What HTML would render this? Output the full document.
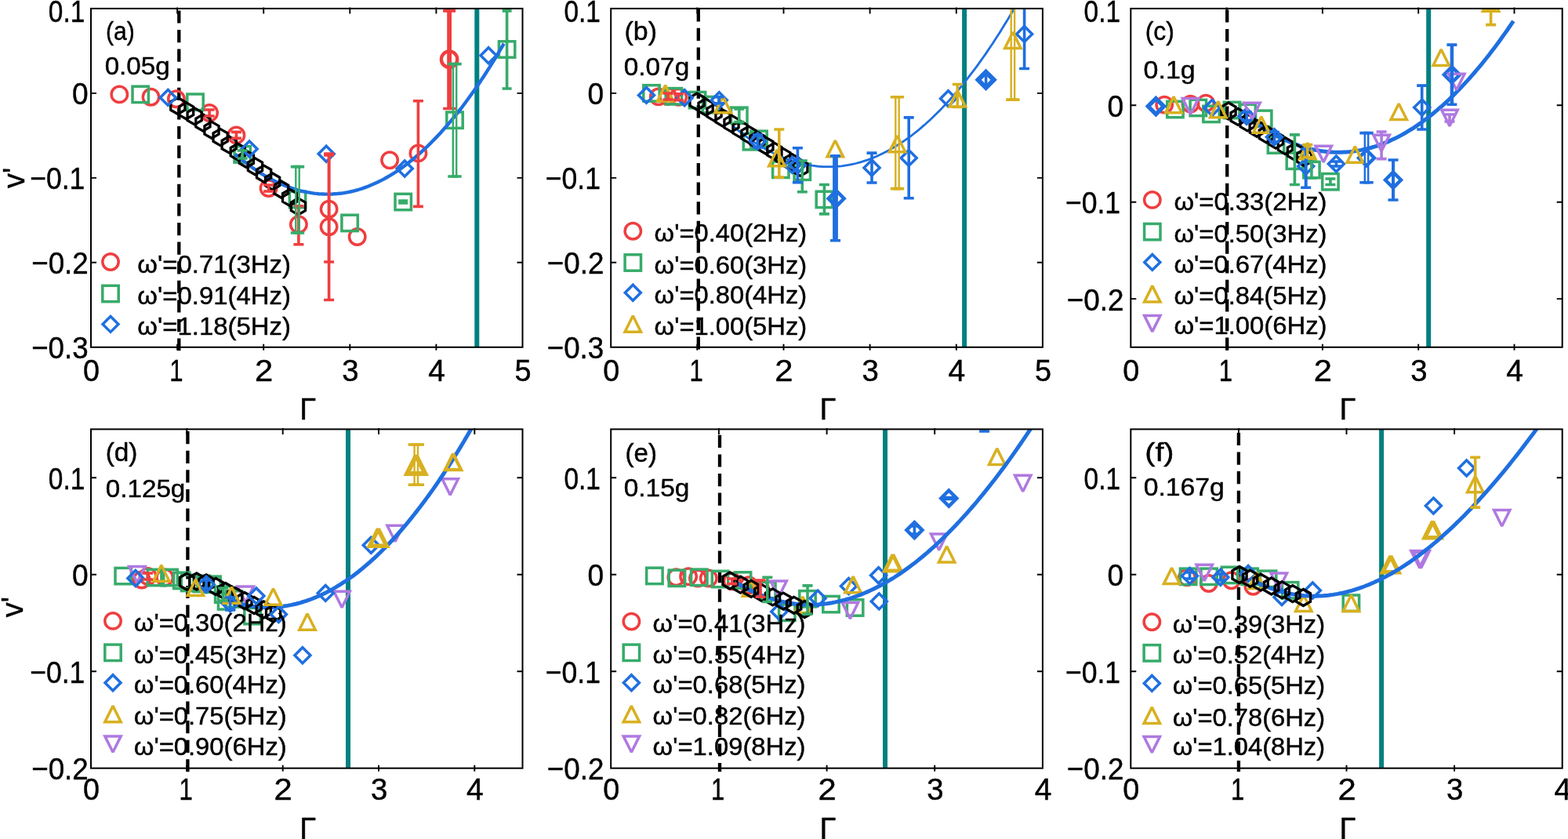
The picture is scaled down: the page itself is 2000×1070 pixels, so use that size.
<!DOCTYPE html>
<html><head><meta charset="utf-8"><style>
html,body{margin:0;padding:0;background:#fff;}
svg{display:block;}
text{font-family:'Liberation Sans',Arial,sans-serif;fill:#000;stroke:#000;stroke-width:0.45px;}
</style></head><body>
<svg width="2000" height="1070" viewBox="0 0 2000 1070">
<rect width="2000" height="1070" fill="#fff"/>
<clipPath id="clipa"><rect x="116.0" y="10.9" width="550.5" height="431.90000000000003"/></clipPath>
<path d="M608.3 10.9V442.8" stroke="#008080" stroke-width="6"/>
<path d="M228.3 13.4V447.3" stroke="#000" stroke-width="4.3" stroke-dasharray="16.2 8.4"/>
<g clip-path="url(#clipa)"><circle cx="152.3" cy="120.4" r="10.2" fill="none" stroke="#EF3E40" stroke-width="3.5"/><circle cx="192.5" cy="123.7" r="10.2" fill="none" stroke="#EF3E40" stroke-width="3.5"/><circle cx="224.9" cy="126.3" r="10.2" fill="none" stroke="#EF3E40" stroke-width="3.5"/><circle cx="267.1" cy="144.0" r="10.2" fill="none" stroke="#EF3E40" stroke-width="3.5"/><circle cx="301.4" cy="172.4" r="10.2" fill="none" stroke="#EF3E40" stroke-width="3.5"/><circle cx="342.6" cy="240.1" r="10.2" fill="none" stroke="#EF3E40" stroke-width="3.5"/><circle cx="380.9" cy="286.3" r="10.2" fill="none" stroke="#EF3E40" stroke-width="3.5"/><circle cx="419.6" cy="266.7" r="10.2" fill="none" stroke="#EF3E40" stroke-width="3.5"/><circle cx="419.6" cy="289.3" r="10.2" fill="none" stroke="#EF3E40" stroke-width="3.5"/><circle cx="455.7" cy="302.0" r="10.2" fill="none" stroke="#EF3E40" stroke-width="3.5"/><circle cx="497.1" cy="204.2" r="10.2" fill="none" stroke="#EF3E40" stroke-width="3.5"/><circle cx="533.4" cy="195.4" r="10.2" fill="none" stroke="#EF3E40" stroke-width="3.5"/><circle cx="573.1" cy="75.7" r="10.2" fill="none" stroke="#EF3E40" stroke-width="4.4"/><rect x="169.0" y="110.2" width="20.4" height="20.4" fill="none" stroke="#37AB6A" stroke-width="3.5" stroke-linejoin="miter"/><rect x="238.8" y="120.0" width="20.4" height="20.4" fill="none" stroke="#37AB6A" stroke-width="3.5" stroke-linejoin="miter"/><rect x="299.0" y="186.7" width="20.4" height="20.4" fill="none" stroke="#37AB6A" stroke-width="3.5" stroke-linejoin="miter"/><rect x="369.3" y="244.3" width="20.4" height="20.4" fill="none" stroke="#37AB6A" stroke-width="3.5" stroke-linejoin="miter"/><rect x="435.9" y="274.2" width="20.4" height="20.4" fill="none" stroke="#37AB6A" stroke-width="3.5" stroke-linejoin="miter"/><rect x="504.0" y="247.3" width="20.4" height="20.4" fill="none" stroke="#37AB6A" stroke-width="3.5" stroke-linejoin="miter"/><rect x="569.8" y="143.0" width="20.4" height="20.4" fill="none" stroke="#37AB6A" stroke-width="3.5" stroke-linejoin="miter"/><rect x="636.4" y="52.8" width="20.4" height="20.4" fill="none" stroke="#37AB6A" stroke-width="3.5" stroke-linejoin="miter"/><path d="M300.0 196.6L302.9 199.0L305.8 201.4L308.6 203.7L311.5 206.0L314.4 208.2L317.3 210.4L320.2 212.5L323.0 214.5L325.9 216.5L328.8 218.4L331.7 220.3L334.6 222.1L337.4 223.8L340.3 225.5L343.2 227.1L346.1 228.6L349.0 230.1L351.8 231.6L354.7 232.9L357.6 234.2L360.5 235.5L363.4 236.7L366.2 237.8L369.1 238.9L372.0 239.9L374.9 240.8L377.8 241.7L380.6 242.5L383.5 243.3L386.4 244.0L389.3 244.6L392.2 245.2L395.0 245.7L397.9 246.2L400.8 246.6L403.7 246.9L406.6 247.2L409.4 247.4L412.3 247.5L415.2 247.6L418.1 247.6L421.0 247.6L423.8 247.5L426.7 247.3L429.6 247.1L432.5 246.8L435.4 246.5L438.2 246.1L441.1 245.6L444.0 245.1L446.9 244.5L449.8 243.8L452.6 243.1L455.5 242.3L458.4 241.5L461.3 240.6L464.2 239.6L467.0 238.6L469.9 237.5L472.8 236.3L475.7 235.1L478.5 233.8L481.4 232.5L484.3 231.1L487.2 229.6L490.1 228.1L492.9 226.5L495.8 224.8L498.7 223.1L501.6 221.3L504.5 219.5L507.3 217.6L510.2 215.6L513.1 213.6L516.0 211.5L518.9 209.3L521.7 207.1L524.6 204.8L527.5 202.4L530.4 200.0L533.3 197.5L536.1 195.0L539.0 192.4L541.9 189.7L544.8 187.0L547.7 184.2L550.5 181.3L553.4 178.4L556.3 175.4L559.2 172.3L562.1 169.2L564.9 166.0L567.8 162.8L570.7 159.5L573.6 156.1L576.5 152.7L579.3 149.2L582.2 145.6L585.1 142.0L588.0 138.3L590.9 134.5L593.7 130.7L596.6 126.8L599.5 122.8L602.4 118.8L605.3 114.7L608.1 110.6L611.0 106.4L613.9 102.1L616.8 97.7L619.7 93.3L622.5 88.9L625.4 84.3L628.3 79.7L631.2 75.0L634.1 70.3L636.9 65.5L639.8 60.6L642.7 55.7" fill="none" stroke="#1F6FE0" stroke-width="4.4" stroke-linecap="butt"/><path d="M226.8 124.5L217.7 129.8L217.7 140.2L226.8 145.5L235.9 140.2L235.9 129.8Z" fill="none" stroke="#000" stroke-width="3.3" stroke-linejoin="miter"/><path d="M237.6 130.8L228.5 136.1L228.5 146.6L237.6 151.8L246.7 146.6L246.7 136.1Z" fill="none" stroke="#000" stroke-width="3.3" stroke-linejoin="miter"/><path d="M248.2 137.8L239.1 143.1L239.1 153.6L248.2 158.8L257.3 153.6L257.3 143.1Z" fill="none" stroke="#000" stroke-width="3.3" stroke-linejoin="miter"/><path d="M258.9 146.0L249.8 151.2L249.8 161.8L258.9 167.0L268.0 161.8L268.0 151.2Z" fill="none" stroke="#000" stroke-width="3.3" stroke-linejoin="miter"/><path d="M270.0 155.3L260.9 160.6L260.9 171.1L270.0 176.3L279.1 171.1L279.1 160.6Z" fill="none" stroke="#000" stroke-width="3.3" stroke-linejoin="miter"/><path d="M281.1 164.6L272.0 169.8L272.0 180.3L281.1 185.6L290.2 180.3L290.2 169.8Z" fill="none" stroke="#000" stroke-width="3.3" stroke-linejoin="miter"/><path d="M292.2 173.9L283.1 179.2L283.1 189.7L292.2 194.9L301.3 189.7L301.3 179.2Z" fill="none" stroke="#000" stroke-width="3.3" stroke-linejoin="miter"/><path d="M303.3 183.2L294.2 188.4L294.2 198.9L303.3 204.2L312.4 198.9L312.4 188.4Z" fill="none" stroke="#000" stroke-width="3.3" stroke-linejoin="miter"/><path d="M314.4 192.5L305.3 197.8L305.3 208.2L314.4 213.5L323.5 208.2L323.5 197.8Z" fill="none" stroke="#000" stroke-width="3.3" stroke-linejoin="miter"/><path d="M325.5 201.8L316.4 207.1L316.4 217.6L325.5 222.8L334.6 217.6L334.6 207.1Z" fill="none" stroke="#000" stroke-width="3.3" stroke-linejoin="miter"/><path d="M336.6 211.1L327.5 216.3L327.5 226.8L336.6 232.1L345.7 226.8L345.7 216.3Z" fill="none" stroke="#000" stroke-width="3.3" stroke-linejoin="miter"/><path d="M347.6 221.0L338.5 226.2L338.5 236.8L347.6 242.0L356.7 236.8L356.7 226.2Z" fill="none" stroke="#000" stroke-width="3.3" stroke-linejoin="miter"/><path d="M358.6 231.0L349.5 236.2L349.5 246.8L358.6 252.0L367.7 246.8L367.7 236.2Z" fill="none" stroke="#000" stroke-width="3.3" stroke-linejoin="miter"/><path d="M369.6 241.4L360.5 246.7L360.5 257.1L369.6 262.4L378.7 257.2L378.7 246.7Z" fill="none" stroke="#000" stroke-width="3.3" stroke-linejoin="miter"/><path d="M380.4 252.8L371.3 258.1L371.3 268.6L380.4 273.8L389.5 268.6L389.5 258.1Z" fill="none" stroke="#000" stroke-width="3.3" stroke-linejoin="miter"/><path d="M214.3 114.4L224.3 124.4L214.3 134.4L204.3 124.4Z" fill="none" stroke="#1F6FE0" stroke-width="3.5" stroke-linejoin="miter"/><path d="M318.1 180.0L328.1 190.0L318.1 200.0L308.1 190.0Z" fill="none" stroke="#1F6FE0" stroke-width="3.5" stroke-linejoin="miter"/><path d="M416.2 186.2L426.2 196.2L416.2 206.2L406.2 196.2Z" fill="none" stroke="#1F6FE0" stroke-width="3.5" stroke-linejoin="miter"/><path d="M516.2 205.0L526.2 215.0L516.2 225.0L506.2 215.0Z" fill="none" stroke="#1F6FE0" stroke-width="3.5" stroke-linejoin="miter"/><path d="M623.1 60.8L633.1 70.8L623.1 80.8L613.1 70.8Z" fill="none" stroke="#1F6FE0" stroke-width="3.5" stroke-linejoin="miter"/><path d="M267.1 140.0V148.0" stroke="#EF3E40" stroke-width="3.6"/><path d="M260.6 140.0H273.6M260.6 148.0H273.6" stroke="#EF3E40" stroke-width="3.6"/><path d="M301.4 168.4V176.4" stroke="#EF3E40" stroke-width="3.6"/><path d="M294.9 168.4H307.9M294.9 176.4H307.9" stroke="#EF3E40" stroke-width="3.6"/><path d="M342.6 236.0V244.0" stroke="#EF3E40" stroke-width="3.6"/><path d="M336.1 236.0H349.1M336.1 244.0H349.1" stroke="#EF3E40" stroke-width="3.6"/><path d="M380.9 262.8V311.8" stroke="#EF3E40" stroke-width="3.6"/><path d="M374.4 262.8H387.4M374.4 311.8H387.4" stroke="#EF3E40" stroke-width="3.6"/><path d="M419.6 198.0V334.0" stroke="#EF3E40" stroke-width="3.6"/><path d="M413.1 198.0H426.1M413.1 334.0H426.1" stroke="#EF3E40" stroke-width="3.6"/><path d="M419.6 196.0V382.5" stroke="#EF3E40" stroke-width="3.6"/><path d="M413.1 196.0H426.1M413.1 382.5H426.1" stroke="#EF3E40" stroke-width="3.6"/><path d="M533.4 128.7V263.4" stroke="#EF3E40" stroke-width="3.6"/><path d="M526.9 128.7H539.9M526.9 263.4H539.9" stroke="#EF3E40" stroke-width="3.6"/><path d="M573.1 13.9V138.5" stroke="#EF3E40" stroke-width="5.8"/><path d="M565.1 13.9H581.1M565.1 138.5H581.1" stroke="#EF3E40" stroke-width="3.6"/><path d="M309.2 192.0V202.0" stroke="#37AB6A" stroke-width="3.6"/><path d="M302.7 192.0H315.7M302.7 202.0H315.7" stroke="#37AB6A" stroke-width="3.6"/><path d="M377.3 212.6V297.0" stroke="#37AB6A" stroke-width="2.4"/><path d="M370.8 212.6H383.8M370.8 297.0H383.8" stroke="#37AB6A" stroke-width="3.6"/><path d="M381.7 212.6V297.0" stroke="#37AB6A" stroke-width="2.4"/><path d="M375.2 212.6H388.2M375.2 297.0H388.2" stroke="#37AB6A" stroke-width="3.6"/><path d="M514.2 256.0V259.0" stroke="#37AB6A" stroke-width="3.6"/><path d="M508.2 256.0H520.2M508.2 259.0H520.2" stroke="#37AB6A" stroke-width="3.6"/><path d="M577.8 81.6V225.0" stroke="#37AB6A" stroke-width="2.4"/><path d="M571.3 81.6H584.3M571.3 225.0H584.3" stroke="#37AB6A" stroke-width="3.6"/><path d="M582.2 81.6V225.0" stroke="#37AB6A" stroke-width="2.4"/><path d="M575.7 81.6H588.7M575.7 225.0H588.7" stroke="#37AB6A" stroke-width="3.6"/><path d="M646.6 13.9V113.0" stroke="#37AB6A" stroke-width="3.6"/><path d="M640.6 13.9H652.6M640.6 113.0H652.6" stroke="#37AB6A" stroke-width="3.6"/></g>
<rect x="116.0" y="10.9" width="550.5" height="431.90000000000003" fill="none" stroke="#000" stroke-width="2.0"/>
<path d="M226.1 438.8V446.8M226.1 9.4V17.4M336.2 438.8V446.8M336.2 9.4V17.4M446.3 438.8V446.8M446.3 9.4V17.4M556.4 438.8V446.8M556.4 9.4V17.4M115.5 118.9H123.0M667.0 118.9H659.5M115.5 226.9H123.0M667.0 226.9H659.5M115.5 334.8H123.0M667.0 334.8H659.5" stroke="#000" stroke-width="1.9"/>
<circle cx="141.0" cy="334.0" r="10.2" fill="none" stroke="#EF3E40" stroke-width="3.5"/>
<rect x="130.8" y="364.3" width="20.4" height="20.4" fill="none" stroke="#37AB6A" stroke-width="3.5" stroke-linejoin="miter"/>
<path d="M141.0 403.4L151.0 413.4L141.0 423.4L131.0 413.4Z" fill="none" stroke="#1F6FE0" stroke-width="3.5" stroke-linejoin="miter"/>
<text transform="translate(30.5 226.8) rotate(-90)" font-size="38" text-anchor="middle">v'</text>
<clipPath id="clipb"><rect x="779.2" y="10.9" width="550.7" height="431.90000000000003"/></clipPath>
<path d="M1230.1 10.9V442.8" stroke="#008080" stroke-width="6"/>
<path d="M890.8 11.200000000000001V447.3" stroke="#000" stroke-width="4.3" stroke-dasharray="16.2 8.4"/>
<g clip-path="url(#clipb)"><circle cx="839.8" cy="123.4" r="10.2" fill="none" stroke="#EF3E40" stroke-width="3.5"/><circle cx="852.0" cy="123.0" r="10.2" fill="none" stroke="#EF3E40" stroke-width="3.5"/><circle cx="865.3" cy="123.8" r="10.2" fill="none" stroke="#EF3E40" stroke-width="3.5"/><rect x="820.8" y="108.7" width="20.4" height="20.4" fill="none" stroke="#37AB6A" stroke-width="3.5" stroke-linejoin="miter"/><rect x="849.2" y="112.6" width="20.4" height="20.4" fill="none" stroke="#37AB6A" stroke-width="3.5" stroke-linejoin="miter"/><rect x="879.3" y="117.4" width="20.4" height="20.4" fill="none" stroke="#37AB6A" stroke-width="3.5" stroke-linejoin="miter"/><rect x="896.3" y="123.4" width="20.4" height="20.4" fill="none" stroke="#37AB6A" stroke-width="3.5" stroke-linejoin="miter"/><rect x="932.6" y="137.1" width="20.4" height="20.4" fill="none" stroke="#37AB6A" stroke-width="3.5" stroke-linejoin="miter"/><rect x="948.3" y="170.5" width="20.4" height="20.4" fill="none" stroke="#37AB6A" stroke-width="3.5" stroke-linejoin="miter"/><rect x="957.8" y="167.1" width="20.4" height="20.4" fill="none" stroke="#37AB6A" stroke-width="3.5" stroke-linejoin="miter"/><rect x="985.6" y="206.1" width="20.4" height="20.4" fill="none" stroke="#37AB6A" stroke-width="3.5" stroke-linejoin="miter"/><rect x="1013.1" y="209.0" width="20.4" height="20.4" fill="none" stroke="#37AB6A" stroke-width="3.5" stroke-linejoin="miter"/><rect x="1041.2" y="244.2" width="20.4" height="20.4" fill="none" stroke="#37AB6A" stroke-width="3.5" stroke-linejoin="miter"/><path d="M935.0 160.8L938.1 163.4L941.1 165.9L944.2 168.3L947.3 170.7L950.3 173.0L953.4 175.3L956.5 177.4L959.5 179.6L962.6 181.6L965.7 183.6L968.7 185.5L971.8 187.4L974.9 189.2L977.9 190.9L981.0 192.5L984.1 194.1L987.1 195.7L990.2 197.1L993.3 198.5L996.3 199.9L999.4 201.1L1002.5 202.3L1005.5 203.5L1008.6 204.5L1011.7 205.6L1014.7 206.5L1017.8 207.4L1020.9 208.2L1023.9 208.9L1027.0 209.6L1030.1 210.2L1033.2 210.7L1036.2 211.2L1039.3 211.6L1042.4 212.0L1045.4 212.3L1048.5 212.5L1051.6 212.6L1054.6 212.7L1057.7 212.7L1060.8 212.7L1063.8 212.5L1066.9 212.4L1070.0 212.1L1073.0 211.8L1076.1 211.4L1079.2 210.9L1082.2 210.4L1085.3 209.8L1088.4 209.2L1091.4 208.5L1094.5 207.7L1097.6 206.8L1100.6 205.9L1103.7 204.9L1106.8 203.9L1109.8 202.7L1112.9 201.6L1116.0 200.3L1119.0 199.0L1122.1 197.6L1125.2 196.1L1128.2 194.6L1131.3 193.0L1134.4 191.3L1137.4 189.6L1140.5 187.8L1143.6 185.9L1146.6 184.0L1149.7 182.0L1152.8 179.9L1155.8 177.8L1158.9 175.6L1162.0 173.3L1165.0 171.0L1168.1 168.6L1171.2 166.1L1174.2 163.6L1177.3 160.9L1180.4 158.3L1183.4 155.5L1186.5 152.7L1189.6 149.8L1192.6 146.8L1195.7 143.8L1198.8 140.7L1201.8 137.6L1204.9 134.3L1208.0 131.0L1211.1 127.7L1214.1 124.2L1217.2 120.7L1220.3 117.2L1223.3 113.5L1226.4 109.8L1229.5 106.0L1232.5 102.2L1235.6 98.2L1238.7 94.2L1241.7 90.2L1244.8 86.1L1247.9 81.9L1250.9 77.6L1254.0 73.3L1257.1 68.9L1260.1 64.4L1263.2 59.8L1266.3 55.2L1269.3 50.5L1272.4 45.8L1275.5 40.9L1278.5 36.1L1281.6 31.1L1284.7 26.1L1287.7 21.0L1290.8 15.8L1293.9 10.5L1296.9 5.2L1300.0 -0.2" fill="none" stroke="#1F6FE0" stroke-width="2.8" stroke-linecap="butt"/><path d="M889.1 119.0L880.0 124.2L880.0 134.8L889.1 140.0L898.2 134.8L898.2 124.2Z" fill="none" stroke="#000" stroke-width="3.3" stroke-linejoin="miter"/><path d="M900.1 126.0L891.0 131.3L891.0 141.8L900.1 147.0L909.2 141.8L909.2 131.3Z" fill="none" stroke="#000" stroke-width="3.3" stroke-linejoin="miter"/><path d="M911.0 133.1L902.0 138.3L902.0 148.8L911.0 154.1L920.1 148.8L920.1 138.3Z" fill="none" stroke="#000" stroke-width="3.3" stroke-linejoin="miter"/><path d="M922.0 140.1L912.9 145.3L912.9 155.8L922.0 161.1L931.1 155.8L931.1 145.3Z" fill="none" stroke="#000" stroke-width="3.3" stroke-linejoin="miter"/><path d="M933.0 147.1L923.9 152.4L923.9 162.9L933.0 168.1L942.1 162.9L942.1 152.4Z" fill="none" stroke="#000" stroke-width="3.3" stroke-linejoin="miter"/><path d="M944.0 154.2L934.9 159.4L934.9 169.9L944.0 175.2L953.1 169.9L953.1 159.4Z" fill="none" stroke="#000" stroke-width="3.3" stroke-linejoin="miter"/><path d="M955.0 161.2L945.9 166.4L945.9 176.9L955.0 182.2L964.0 176.9L964.0 166.4Z" fill="none" stroke="#000" stroke-width="3.3" stroke-linejoin="miter"/><path d="M965.9 168.2L956.8 173.5L956.8 184.0L965.9 189.2L975.0 184.0L975.0 173.5Z" fill="none" stroke="#000" stroke-width="3.3" stroke-linejoin="miter"/><path d="M976.9 175.3L967.8 180.5L967.8 191.0L976.9 196.3L986.0 191.0L986.0 180.5Z" fill="none" stroke="#000" stroke-width="3.3" stroke-linejoin="miter"/><path d="M987.9 182.3L978.8 187.6L978.8 198.1L987.9 203.3L997.0 198.1L997.0 187.6Z" fill="none" stroke="#000" stroke-width="3.3" stroke-linejoin="miter"/><path d="M998.8 189.3L989.8 194.6L989.8 205.1L998.8 210.3L1007.9 205.1L1007.9 194.6Z" fill="none" stroke="#000" stroke-width="3.3" stroke-linejoin="miter"/><path d="M1009.8 196.4L1000.7 201.6L1000.7 212.1L1009.8 217.4L1018.9 212.1L1018.9 201.6Z" fill="none" stroke="#000" stroke-width="3.3" stroke-linejoin="miter"/><path d="M1020.8 203.4L1011.7 208.7L1011.7 219.2L1020.8 224.4L1029.9 219.2L1029.9 208.7Z" fill="none" stroke="#000" stroke-width="3.3" stroke-linejoin="miter"/><path d="M824.5 111.4L834.5 121.4L824.5 131.4L814.5 121.4Z" fill="none" stroke="#1F6FE0" stroke-width="3.5" stroke-linejoin="miter"/><path d="M873.2 114.8L883.2 124.8L873.2 134.8L863.2 124.8Z" fill="none" stroke="#1F6FE0" stroke-width="3.5" stroke-linejoin="miter"/><path d="M917.3 117.7L927.3 127.7L917.3 137.7L907.3 127.7Z" fill="none" stroke="#1F6FE0" stroke-width="3.5" stroke-linejoin="miter"/><path d="M966.5 170.0L976.5 180.0L966.5 190.0L956.5 180.0Z" fill="none" stroke="#1F6FE0" stroke-width="3.5" stroke-linejoin="miter"/><path d="M1010.5 200.4L1020.5 210.4L1010.5 220.4L1000.5 210.4Z" fill="none" stroke="#1F6FE0" stroke-width="3.5" stroke-linejoin="miter"/><path d="M1017.4 200.7L1027.4 210.7L1017.4 220.7L1007.4 210.7Z" fill="none" stroke="#1F6FE0" stroke-width="3.5" stroke-linejoin="miter"/><path d="M1066.6 243.2L1076.6 253.2L1066.6 263.2L1056.6 253.2Z" fill="none" stroke="#1F6FE0" stroke-width="4.5" stroke-linejoin="miter"/><path d="M1112.0 204.1L1122.0 214.1L1112.0 224.1L1102.0 214.1Z" fill="none" stroke="#1F6FE0" stroke-width="3.5" stroke-linejoin="miter"/><path d="M1159.2 191.4L1169.2 201.4L1159.2 211.4L1149.2 201.4Z" fill="none" stroke="#1F6FE0" stroke-width="3.5" stroke-linejoin="miter"/><path d="M1209.5 115.8L1219.5 125.8L1209.5 135.8L1199.5 125.8Z" fill="none" stroke="#1F6FE0" stroke-width="3.5" stroke-linejoin="miter"/><path d="M1257.6 91.8L1267.6 101.8L1257.6 111.8L1247.6 101.8Z" fill="none" stroke="#1F6FE0" stroke-width="6" stroke-linejoin="miter"/><path d="M1306.6 33.4L1316.6 43.4L1306.6 53.4L1296.6 43.4Z" fill="none" stroke="#1F6FE0" stroke-width="3.5" stroke-linejoin="miter"/><path d="M848.6 108.7L858.8 129.1L838.4 129.1Z" fill="none" stroke="#D8B020" stroke-width="3.5" stroke-linejoin="miter" stroke-miterlimit="2"/><path d="M922.2 123.4L932.4 143.8L912.0 143.8Z" fill="none" stroke="#D8B020" stroke-width="3.5" stroke-linejoin="miter" stroke-miterlimit="2"/><path d="M990.9 191.4L1001.1 211.8L980.7 211.8Z" fill="none" stroke="#D8B020" stroke-width="3.5" stroke-linejoin="miter" stroke-miterlimit="2"/><path d="M1065.3 179.3L1075.5 199.7L1055.1 199.7Z" fill="none" stroke="#D8B020" stroke-width="3.5" stroke-linejoin="miter" stroke-miterlimit="2"/><path d="M1144.5 173.3L1154.7 193.7L1134.3 193.7Z" fill="none" stroke="#D8B020" stroke-width="3.5" stroke-linejoin="miter" stroke-miterlimit="2"/><path d="M1221.3 115.6L1231.5 136.0L1211.1 136.0Z" fill="none" stroke="#D8B020" stroke-width="3.5" stroke-linejoin="miter" stroke-miterlimit="2"/><path d="M1291.9 41.0L1302.1 61.4L1281.7 61.4Z" fill="none" stroke="#D8B020" stroke-width="3.5" stroke-linejoin="miter" stroke-miterlimit="2"/><path d="M852.0 119.0V127.0" stroke="#EF3E40" stroke-width="3.6"/><path d="M845.5 119.0H858.5M845.5 127.0H858.5" stroke="#EF3E40" stroke-width="3.6"/><path d="M865.3 119.8V127.8" stroke="#EF3E40" stroke-width="3.6"/><path d="M858.8 119.8H871.8M858.8 127.8H871.8" stroke="#EF3E40" stroke-width="3.6"/><path d="M942.8 139.0V155.6" stroke="#37AB6A" stroke-width="3.6"/><path d="M936.3 139.0H949.3M936.3 155.6H949.3" stroke="#37AB6A" stroke-width="3.6"/><path d="M1023.3 205.0V244.7" stroke="#37AB6A" stroke-width="3.6"/><path d="M1016.8 205.0H1029.8M1016.8 244.7H1029.8" stroke="#37AB6A" stroke-width="3.6"/><path d="M1051.4 235.5V272.9" stroke="#37AB6A" stroke-width="3.6"/><path d="M1044.9 235.5H1057.9M1044.9 272.9H1057.9" stroke="#37AB6A" stroke-width="3.6"/><path d="M917.3 123.7V131.7" stroke="#1F6FE0" stroke-width="3.6"/><path d="M910.8 123.7H923.8M910.8 131.7H923.8" stroke="#1F6FE0" stroke-width="3.6"/><path d="M966.5 172.0V188.0" stroke="#1F6FE0" stroke-width="3.6"/><path d="M960.0 172.0H973.0M960.0 188.0H973.0" stroke="#1F6FE0" stroke-width="3.6"/><path d="M1017.4 188.8V232.6" stroke="#1F6FE0" stroke-width="3.6"/><path d="M1010.9 188.8H1023.9M1010.9 232.6H1023.9" stroke="#1F6FE0" stroke-width="3.6"/><path d="M1065.5 198.9V306.7" stroke="#1F6FE0" stroke-width="6.8"/><path d="M1059.0 198.9H1072.0M1059.0 306.7H1072.0" stroke="#1F6FE0" stroke-width="3.6"/><path d="M1112.0 195.1V233.0" stroke="#1F6FE0" stroke-width="3.6"/><path d="M1105.5 195.1H1118.5M1105.5 233.0H1118.5" stroke="#1F6FE0" stroke-width="3.6"/><path d="M1159.2 149.9V252.7" stroke="#1F6FE0" stroke-width="3.6"/><path d="M1152.7 149.9H1165.7M1152.7 252.7H1165.7" stroke="#1F6FE0" stroke-width="3.6"/><path d="M1257.6 95.0V108.0" stroke="#1F6FE0" stroke-width="3.6"/><path d="M1251.6 95.0H1263.6M1251.6 108.0H1263.6" stroke="#1F6FE0" stroke-width="3.6"/><path d="M1306.6 -20.0V87.5" stroke="#1F6FE0" stroke-width="3.6"/><path d="M1300.1 -20.0H1313.1M1300.1 87.5H1313.1" stroke="#1F6FE0" stroke-width="3.6"/><path d="M993.8 165.0V226.1" stroke="#D8B020" stroke-width="3.6"/><path d="M987.3 165.0H1000.3M987.3 226.1H1000.3" stroke="#D8B020" stroke-width="3.6"/><path d="M1142.3 123.8V240.6" stroke="#D8B020" stroke-width="2.4"/><path d="M1135.8 123.8H1148.8M1135.8 240.6H1148.8" stroke="#D8B020" stroke-width="3.6"/><path d="M1146.7 123.8V240.6" stroke="#D8B020" stroke-width="2.4"/><path d="M1140.2 123.8H1153.2M1140.2 240.6H1153.2" stroke="#D8B020" stroke-width="3.6"/><path d="M1221.3 107.5V136.5" stroke="#D8B020" stroke-width="3.6"/><path d="M1214.8 107.5H1227.8M1214.8 136.5H1227.8" stroke="#D8B020" stroke-width="3.6"/><path d="M1289.7 -20.0V127.1" stroke="#D8B020" stroke-width="2.4"/><path d="M1283.2 -20.0H1296.2M1283.2 127.1H1296.2" stroke="#D8B020" stroke-width="3.6"/><path d="M1294.1 -20.0V127.1" stroke="#D8B020" stroke-width="2.4"/><path d="M1287.6 -20.0H1300.6M1287.6 127.1H1300.6" stroke="#D8B020" stroke-width="3.6"/></g>
<rect x="779.2" y="10.9" width="550.7" height="431.90000000000003" fill="none" stroke="#000" stroke-width="2.0"/>
<path d="M889.3 438.8V446.8M889.3 9.4V17.4M999.5 438.8V446.8M999.5 9.4V17.4M1109.6 438.8V446.8M1109.6 9.4V17.4M1219.8 438.8V446.8M1219.8 9.4V17.4M778.7 118.9H786.2M1330.4 118.9H1322.9M778.7 226.9H786.2M1330.4 226.9H1322.9M778.7 334.8H786.2M1330.4 334.8H1322.9" stroke="#000" stroke-width="1.9"/>
<circle cx="807.3" cy="294.8" r="10.2" fill="none" stroke="#EF3E40" stroke-width="3.5"/>
<rect x="797.1" y="324.8" width="20.4" height="20.4" fill="none" stroke="#37AB6A" stroke-width="3.5" stroke-linejoin="miter"/>
<path d="M807.3 363.3L817.3 373.3L807.3 383.3L797.3 373.3Z" fill="none" stroke="#1F6FE0" stroke-width="3.5" stroke-linejoin="miter"/>
<path d="M807.3 402.8L817.5 423.2L797.1 423.2Z" fill="none" stroke="#D8B020" stroke-width="3.5" stroke-linejoin="miter" stroke-miterlimit="2"/>
<clipPath id="clipc"><rect x="1442.3" y="10.9" width="550.4000000000001" height="431.90000000000003"/></clipPath>
<path d="M1822.2 10.9V442.8" stroke="#008080" stroke-width="6"/>
<path d="M1565.2 12.4V447.3" stroke="#000" stroke-width="4.3" stroke-dasharray="16.2 8.4"/>
<g clip-path="url(#clipc)"><circle cx="1485.2" cy="133.6" r="10.2" fill="none" stroke="#EF3E40" stroke-width="3.5"/><circle cx="1518.5" cy="132.6" r="10.2" fill="none" stroke="#EF3E40" stroke-width="3.5"/><circle cx="1538.1" cy="131.6" r="10.2" fill="none" stroke="#EF3E40" stroke-width="3.5"/><rect x="1488.7" y="129.3" width="20.4" height="20.4" fill="none" stroke="#37AB6A" stroke-width="3.5" stroke-linejoin="miter"/><rect x="1518.1" y="127.3" width="20.4" height="20.4" fill="none" stroke="#37AB6A" stroke-width="3.5" stroke-linejoin="miter"/><rect x="1534.8" y="135.2" width="20.4" height="20.4" fill="none" stroke="#37AB6A" stroke-width="3.5" stroke-linejoin="miter"/><rect x="1561.3" y="130.3" width="20.4" height="20.4" fill="none" stroke="#37AB6A" stroke-width="3.5" stroke-linejoin="miter"/><rect x="1580.9" y="133.2" width="20.4" height="20.4" fill="none" stroke="#37AB6A" stroke-width="3.5" stroke-linejoin="miter"/><rect x="1601.5" y="141.1" width="20.4" height="20.4" fill="none" stroke="#37AB6A" stroke-width="3.5" stroke-linejoin="miter"/><rect x="1617.3" y="174.8" width="20.4" height="20.4" fill="none" stroke="#37AB6A" stroke-width="3.5" stroke-linejoin="miter"/><rect x="1641.2" y="195.0" width="20.4" height="20.4" fill="none" stroke="#37AB6A" stroke-width="3.5" stroke-linejoin="miter"/><rect x="1662.7" y="206.4" width="20.4" height="20.4" fill="none" stroke="#37AB6A" stroke-width="3.5" stroke-linejoin="miter"/><rect x="1686.7" y="221.5" width="20.4" height="20.4" fill="none" stroke="#37AB6A" stroke-width="3.5" stroke-linejoin="miter"/><path d="M1600.0 154.6L1602.8 156.6L1605.6 158.6L1608.3 160.6L1611.1 162.4L1613.9 164.2L1616.7 166.0L1619.4 167.7L1622.2 169.4L1625.0 171.0L1627.8 172.5L1630.5 174.0L1633.3 175.5L1636.1 176.9L1638.9 178.2L1641.6 179.5L1644.4 180.7L1647.2 181.9L1650.0 183.0L1652.8 184.1L1655.5 185.1L1658.3 186.1L1661.1 187.0L1663.9 187.8L1666.6 188.6L1669.4 189.4L1672.2 190.1L1675.0 190.7L1677.7 191.3L1680.5 191.8L1683.3 192.3L1686.1 192.7L1688.8 193.1L1691.6 193.4L1694.4 193.7L1697.2 193.9L1700.0 194.1L1702.7 194.2L1705.5 194.3L1708.3 194.3L1711.1 194.2L1713.8 194.1L1716.6 194.0L1719.4 193.7L1722.2 193.5L1724.9 193.2L1727.7 192.8L1730.5 192.4L1733.3 191.9L1736.0 191.4L1738.8 190.8L1741.6 190.2L1744.4 189.5L1747.2 188.8L1749.9 188.0L1752.7 187.2L1755.5 186.3L1758.3 185.3L1761.0 184.4L1763.8 183.3L1766.6 182.2L1769.4 181.1L1772.1 179.9L1774.9 178.6L1777.7 177.3L1780.5 176.0L1783.2 174.6L1786.0 173.1L1788.8 171.6L1791.6 170.0L1794.4 168.4L1797.1 166.7L1799.9 165.0L1802.7 163.3L1805.5 161.4L1808.2 159.6L1811.0 157.6L1813.8 155.7L1816.6 153.6L1819.3 151.6L1822.1 149.4L1824.9 147.3L1827.7 145.0L1830.4 142.7L1833.2 140.4L1836.0 138.0L1838.8 135.6L1841.6 133.1L1844.3 130.6L1847.1 128.0L1849.9 125.3L1852.7 122.6L1855.4 119.9L1858.2 117.1L1861.0 114.3L1863.8 111.4L1866.5 108.4L1869.3 105.4L1872.1 102.4L1874.9 99.3L1877.6 96.2L1880.4 93.0L1883.2 89.7L1886.0 86.4L1888.8 83.1L1891.5 79.7L1894.3 76.2L1897.1 72.7L1899.9 69.2L1902.6 65.6L1905.4 61.9L1908.2 58.2L1911.0 54.5L1913.7 50.7L1916.5 46.8L1919.3 42.9L1922.1 39.0L1924.8 35.0L1927.6 30.9L1930.4 26.8" fill="none" stroke="#1F6FE0" stroke-width="5.0" stroke-linecap="butt"/><path d="M1567.0 131.0L1557.9 136.2L1557.9 146.8L1567.0 152.0L1576.1 146.8L1576.1 136.2Z" fill="none" stroke="#000" stroke-width="3.3" stroke-linejoin="miter"/><path d="M1579.1 138.4L1570.0 143.7L1570.0 154.2L1579.1 159.4L1588.2 154.2L1588.2 143.7Z" fill="none" stroke="#000" stroke-width="3.3" stroke-linejoin="miter"/><path d="M1591.1 145.9L1582.0 151.1L1582.0 161.6L1591.1 166.9L1600.2 161.6L1600.2 151.1Z" fill="none" stroke="#000" stroke-width="3.3" stroke-linejoin="miter"/><path d="M1603.2 153.3L1594.1 158.6L1594.1 169.1L1603.2 174.3L1612.3 169.1L1612.3 158.6Z" fill="none" stroke="#000" stroke-width="3.3" stroke-linejoin="miter"/><path d="M1615.2 160.8L1606.2 166.0L1606.2 176.5L1615.2 181.8L1624.3 176.5L1624.3 166.0Z" fill="none" stroke="#000" stroke-width="3.3" stroke-linejoin="miter"/><path d="M1627.3 168.2L1618.2 173.4L1618.2 183.9L1627.3 189.2L1636.4 183.9L1636.4 173.4Z" fill="none" stroke="#000" stroke-width="3.3" stroke-linejoin="miter"/><path d="M1639.4 175.6L1630.3 180.9L1630.3 191.4L1639.4 196.6L1648.5 191.4L1648.5 180.9Z" fill="none" stroke="#000" stroke-width="3.3" stroke-linejoin="miter"/><path d="M1651.4 183.1L1642.3 188.3L1642.3 198.8L1651.4 204.1L1660.5 198.8L1660.5 188.3Z" fill="none" stroke="#000" stroke-width="3.3" stroke-linejoin="miter"/><path d="M1663.5 190.5L1654.4 195.8L1654.4 206.2L1663.5 211.5L1672.6 206.2L1672.6 195.8Z" fill="none" stroke="#000" stroke-width="3.3" stroke-linejoin="miter"/><path d="M1474.4 125.6L1484.4 135.6L1474.4 145.6L1464.4 135.6Z" fill="none" stroke="#1F6FE0" stroke-width="5.5" stroke-linejoin="miter"/><path d="M1546.0 127.5L1556.0 137.5L1546.0 147.5L1536.0 137.5Z" fill="none" stroke="#1F6FE0" stroke-width="3.5" stroke-linejoin="miter"/><path d="M1590.1 138.3L1600.1 148.3L1590.1 158.3L1580.1 148.3Z" fill="none" stroke="#1F6FE0" stroke-width="3.5" stroke-linejoin="miter"/><path d="M1625.4 164.8L1635.4 174.8L1625.4 184.8L1615.4 174.8Z" fill="none" stroke="#1F6FE0" stroke-width="3.5" stroke-linejoin="miter"/><path d="M1665.7 202.1L1675.7 212.1L1665.7 222.1L1655.7 212.1Z" fill="none" stroke="#1F6FE0" stroke-width="3.5" stroke-linejoin="miter"/><path d="M1704.4 199.0L1714.4 209.0L1704.4 219.0L1694.4 209.0Z" fill="none" stroke="#1F6FE0" stroke-width="3.5" stroke-linejoin="miter"/><path d="M1743.0 191.4L1753.0 201.4L1743.0 211.4L1733.0 201.4Z" fill="none" stroke="#1F6FE0" stroke-width="4.5" stroke-linejoin="miter"/><path d="M1777.0 219.5L1787.0 229.5L1777.0 239.5L1767.0 229.5Z" fill="none" stroke="#1F6FE0" stroke-width="4.5" stroke-linejoin="miter"/><path d="M1813.7 127.1L1823.7 137.1L1813.7 147.1L1803.7 137.1Z" fill="none" stroke="#1F6FE0" stroke-width="3.5" stroke-linejoin="miter"/><path d="M1851.9 85.3L1861.9 95.3L1851.9 105.3L1841.9 95.3Z" fill="none" stroke="#1F6FE0" stroke-width="4.5" stroke-linejoin="miter"/><path d="M1497.0 123.4L1507.2 143.8L1486.8 143.8Z" fill="none" stroke="#D8B020" stroke-width="3.5" stroke-linejoin="miter" stroke-miterlimit="2"/><path d="M1553.8 129.3L1564.0 149.7L1543.6 149.7Z" fill="none" stroke="#D8B020" stroke-width="3.5" stroke-linejoin="miter" stroke-miterlimit="2"/><path d="M1608.8 148.9L1619.0 169.3L1598.6 169.3Z" fill="none" stroke="#D8B020" stroke-width="3.5" stroke-linejoin="miter" stroke-miterlimit="2"/><path d="M1667.8 182.4L1678.0 202.8L1657.6 202.8Z" fill="none" stroke="#D8B020" stroke-width="3.5" stroke-linejoin="miter" stroke-miterlimit="2"/><path d="M1728.3 186.9L1738.5 207.3L1718.1 207.3Z" fill="none" stroke="#D8B020" stroke-width="3.5" stroke-linejoin="miter" stroke-miterlimit="2"/><path d="M1784.2 132.2L1794.4 152.6L1774.0 152.6Z" fill="none" stroke="#D8B020" stroke-width="3.5" stroke-linejoin="miter" stroke-miterlimit="2"/><path d="M1838.2 63.0L1848.4 83.4L1828.0 83.4Z" fill="none" stroke="#D8B020" stroke-width="3.5" stroke-linejoin="miter" stroke-miterlimit="2"/><path d="M1901.6 -6.2L1911.8 14.2L1891.4 14.2Z" fill="none" stroke="#D8B020" stroke-width="3.5" stroke-linejoin="miter" stroke-miterlimit="2"/><path d="M1518.5 145.8L1528.7 125.4L1508.3 125.4Z" fill="none" stroke="#AF79E0" stroke-width="3.5" stroke-linejoin="miter" stroke-miterlimit="2"/><path d="M1597.0 151.7L1607.2 131.3L1586.8 131.3Z" fill="none" stroke="#AF79E0" stroke-width="3.5" stroke-linejoin="miter" stroke-miterlimit="2"/><path d="M1688.2 206.6L1698.4 186.2L1678.0 186.2Z" fill="none" stroke="#AF79E0" stroke-width="3.5" stroke-linejoin="miter" stroke-miterlimit="2"/><path d="M1762.1 192.6L1772.3 172.2L1751.9 172.2Z" fill="none" stroke="#AF79E0" stroke-width="3.5" stroke-linejoin="miter" stroke-miterlimit="2"/><path d="M1849.0 160.7L1859.2 140.3L1838.8 140.3Z" fill="none" stroke="#AF79E0" stroke-width="3.5" stroke-linejoin="miter" stroke-miterlimit="2"/><path d="M1857.8 114.7L1868.0 94.3L1847.6 94.3Z" fill="none" stroke="#AF79E0" stroke-width="3.5" stroke-linejoin="miter" stroke-miterlimit="2"/><path d="M1651.4 171.9V235.5" stroke="#37AB6A" stroke-width="3.6"/><path d="M1644.9 171.9H1657.9M1644.9 235.5H1657.9" stroke="#37AB6A" stroke-width="3.6"/><path d="M1672.9 206.0V227.0" stroke="#37AB6A" stroke-width="3.6"/><path d="M1666.4 206.0H1679.4M1666.4 227.0H1679.4" stroke="#37AB6A" stroke-width="3.6"/><path d="M1696.9 228.0V235.5" stroke="#37AB6A" stroke-width="3.6"/><path d="M1690.4 228.0H1703.4M1690.4 235.5H1703.4" stroke="#37AB6A" stroke-width="3.6"/><path d="M1590.1 143.0V153.5" stroke="#1F6FE0" stroke-width="3.6"/><path d="M1583.6 143.0H1596.6M1583.6 153.5H1596.6" stroke="#1F6FE0" stroke-width="3.6"/><path d="M1625.4 168.5V181.0" stroke="#1F6FE0" stroke-width="3.6"/><path d="M1618.9 168.5H1631.9M1618.9 181.0H1631.9" stroke="#1F6FE0" stroke-width="3.6"/><path d="M1665.7 190.0V239.3" stroke="#1F6FE0" stroke-width="4"/><path d="M1659.2 190.0H1672.2M1659.2 239.3H1672.2" stroke="#1F6FE0" stroke-width="3.6"/><path d="M1704.4 206.0V212.0" stroke="#1F6FE0" stroke-width="3.6"/><path d="M1697.9 206.0H1710.9M1697.9 212.0H1710.9" stroke="#1F6FE0" stroke-width="3.6"/><path d="M1740.8 169.6V232.8" stroke="#1F6FE0" stroke-width="2.4"/><path d="M1734.3 169.6H1747.3M1734.3 232.8H1747.3" stroke="#1F6FE0" stroke-width="3.6"/><path d="M1745.2 169.6V232.8" stroke="#1F6FE0" stroke-width="2.4"/><path d="M1738.7 169.6H1751.7M1738.7 232.8H1751.7" stroke="#1F6FE0" stroke-width="3.6"/><path d="M1777.0 204.0V255.0" stroke="#1F6FE0" stroke-width="4"/><path d="M1770.5 204.0H1783.5M1770.5 255.0H1783.5" stroke="#1F6FE0" stroke-width="3.6"/><path d="M1813.7 109.1V165.0" stroke="#1F6FE0" stroke-width="3.6"/><path d="M1807.2 109.1H1820.2M1807.2 165.0H1820.2" stroke="#1F6FE0" stroke-width="3.6"/><path d="M1851.9 57.1V133.2" stroke="#1F6FE0" stroke-width="4.5"/><path d="M1845.4 57.1H1858.4M1845.4 133.2H1858.4" stroke="#1F6FE0" stroke-width="3.6"/><path d="M1667.8 184.6V200.6" stroke="#D8B020" stroke-width="3.6"/><path d="M1661.3 184.6H1674.3M1661.3 200.6H1674.3" stroke="#D8B020" stroke-width="3.6"/><path d="M1901.6 13.0V31.6" stroke="#D8B020" stroke-width="3.6"/><path d="M1895.1 13.0H1908.1M1895.1 31.6H1908.1" stroke="#D8B020" stroke-width="3.6"/><path d="M1762.1 168.0V202.6" stroke="#AF79E0" stroke-width="3.6"/><path d="M1755.6 168.0H1768.6M1755.6 202.6H1768.6" stroke="#AF79E0" stroke-width="3.6"/><path d="M1849.0 146.0V155.0" stroke="#AF79E0" stroke-width="3.6"/><path d="M1842.5 146.0H1855.5M1842.5 155.0H1855.5" stroke="#AF79E0" stroke-width="3.6"/></g>
<rect x="1442.3" y="10.9" width="550.4000000000001" height="431.90000000000003" fill="none" stroke="#000" stroke-width="2.0"/>
<path d="M1564.6 438.8V446.8M1564.6 9.4V17.4M1686.9 438.8V446.8M1686.9 9.4V17.4M1809.2 438.8V446.8M1809.2 9.4V17.4M1931.5 438.8V446.8M1931.5 9.4V17.4M1441.8 134.3H1449.3M1993.2 134.3H1985.7M1441.8 257.7H1449.3M1993.2 257.7H1985.7M1441.8 381.1H1449.3M1993.2 381.1H1985.7" stroke="#000" stroke-width="1.9"/>
<circle cx="1469.8" cy="254.9" r="10.2" fill="none" stroke="#EF3E40" stroke-width="3.5"/>
<rect x="1459.6" y="285.4" width="20.4" height="20.4" fill="none" stroke="#37AB6A" stroke-width="3.5" stroke-linejoin="miter"/>
<path d="M1469.8 324.4L1479.8 334.4L1469.8 344.4L1459.8 334.4Z" fill="none" stroke="#1F6FE0" stroke-width="3.5" stroke-linejoin="miter"/>
<path d="M1469.8 364.6L1480.0 385.0L1459.6 385.0Z" fill="none" stroke="#D8B020" stroke-width="3.5" stroke-linejoin="miter" stroke-miterlimit="2"/>
<path d="M1469.8 422.9L1480.0 402.5L1459.6 402.5Z" fill="none" stroke="#AF79E0" stroke-width="3.5" stroke-linejoin="miter" stroke-miterlimit="2"/>
<clipPath id="clipd"><rect x="116.0" y="547.4" width="550.5" height="432.30000000000007"/></clipPath>
<path d="M444.0 547.4V979.7" stroke="#008080" stroke-width="6"/>
<path d="M239.4 550.1V984.2" stroke="#000" stroke-width="4.3" stroke-dasharray="16.2 8.4"/>
<g clip-path="url(#clipd)"><circle cx="180.7" cy="739.5" r="10.2" fill="none" stroke="#EF3E40" stroke-width="3.5"/><circle cx="188.6" cy="735.0" r="10.2" fill="none" stroke="#EF3E40" stroke-width="3.5"/><circle cx="210.2" cy="736.5" r="10.2" fill="none" stroke="#EF3E40" stroke-width="3.5"/><rect x="147.0" y="724.4" width="20.4" height="20.4" fill="none" stroke="#37AB6A" stroke-width="3.5" stroke-linejoin="miter"/><rect x="188.2" y="726.3" width="20.4" height="20.4" fill="none" stroke="#37AB6A" stroke-width="3.5" stroke-linejoin="miter"/><rect x="205.9" y="726.3" width="20.4" height="20.4" fill="none" stroke="#37AB6A" stroke-width="3.5" stroke-linejoin="miter"/><rect x="221.6" y="730.2" width="20.4" height="20.4" fill="none" stroke="#37AB6A" stroke-width="3.5" stroke-linejoin="miter"/><rect x="231.4" y="733.2" width="20.4" height="20.4" fill="none" stroke="#37AB6A" stroke-width="3.5" stroke-linejoin="miter"/><rect x="247.1" y="734.2" width="20.4" height="20.4" fill="none" stroke="#37AB6A" stroke-width="3.5" stroke-linejoin="miter"/><rect x="260.8" y="735.1" width="20.4" height="20.4" fill="none" stroke="#37AB6A" stroke-width="3.5" stroke-linejoin="miter"/><rect x="274.5" y="747.9" width="20.4" height="20.4" fill="none" stroke="#37AB6A" stroke-width="3.5" stroke-linejoin="miter"/><rect x="278.4" y="756.7" width="20.4" height="20.4" fill="none" stroke="#37AB6A" stroke-width="3.5" stroke-linejoin="miter"/><rect x="288.3" y="753.8" width="20.4" height="20.4" fill="none" stroke="#37AB6A" stroke-width="3.5" stroke-linejoin="miter"/><rect x="311.8" y="775.4" width="20.4" height="20.4" fill="none" stroke="#37AB6A" stroke-width="3.5" stroke-linejoin="miter"/><path d="M174.9 742.8L185.1 722.4L164.7 722.4Z" fill="none" stroke="#AF79E0" stroke-width="3.5" stroke-linejoin="miter" stroke-miterlimit="2"/><path d="M313.2 768.3L323.4 747.9L303.0 747.9Z" fill="none" stroke="#AF79E0" stroke-width="3.5" stroke-linejoin="miter" stroke-miterlimit="2"/><path d="M436.1 774.7L446.3 754.3L425.9 754.3Z" fill="none" stroke="#AF79E0" stroke-width="3.5" stroke-linejoin="miter" stroke-miterlimit="2"/><path d="M504.1 690.7L514.3 670.3L493.9 670.3Z" fill="none" stroke="#AF79E0" stroke-width="3.5" stroke-linejoin="miter" stroke-miterlimit="2"/><path d="M574.2 631.2L584.4 610.8L564.0 610.8Z" fill="none" stroke="#AF79E0" stroke-width="3.5" stroke-linejoin="miter" stroke-miterlimit="2"/><path d="M290.0 765.3L292.6 766.2L295.3 767.0L297.9 767.9L300.6 768.7L303.2 769.4L305.9 770.1L308.5 770.7L311.2 771.3L313.8 771.8L316.5 772.3L319.1 772.7L321.8 773.1L324.4 773.5L327.1 773.8L329.7 774.0L332.4 774.2L335.0 774.4L337.6 774.5L340.3 774.5L342.9 774.5L345.6 774.5L348.2 774.4L350.9 774.2L353.5 774.0L356.2 773.8L358.8 773.5L361.5 773.2L364.1 772.8L366.8 772.4L369.4 771.9L372.1 771.4L374.7 770.8L377.4 770.2L380.0 769.5L382.6 768.8L385.3 768.0L387.9 767.2L390.6 766.4L393.2 765.4L395.9 764.5L398.5 763.5L401.2 762.4L403.8 761.3L406.5 760.2L409.1 759.0L411.8 757.8L414.4 756.5L417.1 755.1L419.7 753.7L422.4 752.3L425.0 750.8L427.6 749.3L430.3 747.7L432.9 746.1L435.6 744.4L438.2 742.7L440.9 741.0L443.5 739.1L446.2 737.3L448.8 735.4L451.5 733.4L454.1 731.4L456.8 729.4L459.4 727.3L462.1 725.1L464.7 722.9L467.4 720.7L470.0 718.4L472.6 716.1L475.3 713.7L477.9 711.3L480.6 708.8L483.2 706.3L485.9 703.7L488.5 701.1L491.2 698.5L493.8 695.8L496.5 693.0L499.1 690.2L501.8 687.3L504.4 684.5L507.1 681.5L509.7 678.5L512.4 675.5L515.0 672.4L517.6 669.3L520.3 666.1L522.9 662.9L525.6 659.6L528.2 656.3L530.9 652.9L533.5 649.5L536.2 646.1L538.8 642.6L541.5 639.0L544.1 635.4L546.8 631.8L549.4 628.1L552.1 624.4L554.7 620.6L557.4 616.8L560.0 612.9L562.6 609.0L565.3 605.0L567.9 601.0L570.6 596.9L573.2 592.8L575.9 588.7L578.5 584.5L581.2 580.2L583.8 576.0L586.5 571.6L589.1 567.2L591.8 562.8L594.4 558.3L597.1 553.8L599.7 549.3L602.4 544.7L605.0 540.0" fill="none" stroke="#1F6FE0" stroke-width="5.0" stroke-linecap="butt"/><path d="M238.5 731.3L229.4 736.5L229.4 747.0L238.5 752.3L247.6 747.0L247.6 736.5Z" fill="none" stroke="#000" stroke-width="3.3" stroke-linejoin="miter"/><path d="M250.8 731.0L241.7 736.2L241.7 746.8L250.8 752.0L259.9 746.8L259.9 736.2Z" fill="none" stroke="#000" stroke-width="3.3" stroke-linejoin="miter"/><path d="M263.1 732.9L254.0 738.1L254.0 748.6L263.1 753.9L272.2 748.6L272.2 738.1Z" fill="none" stroke="#000" stroke-width="3.3" stroke-linejoin="miter"/><path d="M275.3 737.5L266.2 742.8L266.2 753.2L275.3 758.5L284.4 753.2L284.4 742.8Z" fill="none" stroke="#000" stroke-width="3.3" stroke-linejoin="miter"/><path d="M287.5 743.5L278.4 748.8L278.4 759.2L287.5 764.5L296.6 759.2L296.6 748.8Z" fill="none" stroke="#000" stroke-width="3.3" stroke-linejoin="miter"/><path d="M299.7 749.5L290.6 754.8L290.6 765.2L299.7 770.5L308.8 765.2L308.8 754.8Z" fill="none" stroke="#000" stroke-width="3.3" stroke-linejoin="miter"/><path d="M311.9 755.5L302.8 760.8L302.8 771.2L311.9 776.5L321.0 771.2L321.0 760.8Z" fill="none" stroke="#000" stroke-width="3.3" stroke-linejoin="miter"/><path d="M324.1 761.5L315.0 766.8L315.0 777.2L324.1 782.5L333.2 777.2L333.2 766.8Z" fill="none" stroke="#000" stroke-width="3.3" stroke-linejoin="miter"/><path d="M336.3 767.0L327.2 772.2L327.2 782.8L336.3 788.0L345.4 782.8L345.4 772.2Z" fill="none" stroke="#000" stroke-width="3.3" stroke-linejoin="miter"/><path d="M348.6 772.0L339.5 777.2L339.5 787.8L348.6 793.0L357.7 787.8L357.7 777.2Z" fill="none" stroke="#000" stroke-width="3.3" stroke-linejoin="miter"/><path d="M172.9 727.5L182.9 737.5L172.9 747.5L162.9 737.5Z" fill="none" stroke="#1F6FE0" stroke-width="3.5" stroke-linejoin="miter"/><path d="M263.1 735.3L273.1 745.3L263.1 755.3L253.1 745.3Z" fill="none" stroke="#1F6FE0" stroke-width="3.5" stroke-linejoin="miter"/><path d="M293.6 759.9L303.6 769.9L293.6 779.9L283.6 769.9Z" fill="none" stroke="#1F6FE0" stroke-width="3.5" stroke-linejoin="miter"/><path d="M326.9 750.0L336.9 760.0L326.9 770.0L316.9 760.0Z" fill="none" stroke="#1F6FE0" stroke-width="3.5" stroke-linejoin="miter"/><path d="M355.4 773.6L365.4 783.6L355.4 793.6L345.4 783.6Z" fill="none" stroke="#1F6FE0" stroke-width="3.5" stroke-linejoin="miter"/><path d="M385.9 825.8L395.9 835.8L385.9 845.8L375.9 835.8Z" fill="none" stroke="#1F6FE0" stroke-width="3.5" stroke-linejoin="miter"/><path d="M415.2 746.4L425.2 756.4L415.2 766.4L405.2 756.4Z" fill="none" stroke="#1F6FE0" stroke-width="3.5" stroke-linejoin="miter"/><path d="M473.3 685.2L483.3 695.2L473.3 705.2L463.3 695.2Z" fill="none" stroke="#1F6FE0" stroke-width="3.5" stroke-linejoin="miter"/><path d="M205.8 720.8L216.0 741.2L195.6 741.2Z" fill="none" stroke="#D8B020" stroke-width="3.5" stroke-linejoin="miter" stroke-miterlimit="2"/><path d="M249.4 739.1L259.6 759.5L239.2 759.5Z" fill="none" stroke="#D8B020" stroke-width="3.5" stroke-linejoin="miter" stroke-miterlimit="2"/><path d="M295.5 748.9L305.7 769.3L285.3 769.3Z" fill="none" stroke="#D8B020" stroke-width="3.5" stroke-linejoin="miter" stroke-miterlimit="2"/><path d="M348.5 750.8L358.7 771.2L338.3 771.2Z" fill="none" stroke="#D8B020" stroke-width="3.5" stroke-linejoin="miter" stroke-miterlimit="2"/><path d="M392.0 782.8L402.2 803.2L381.8 803.2Z" fill="none" stroke="#D8B020" stroke-width="3.5" stroke-linejoin="miter" stroke-miterlimit="2"/><path d="M482.4 674.7L493.2 696.3L471.6 696.3Z" fill="none" stroke="#D8B020" stroke-width="5.5" stroke-linejoin="miter" stroke-miterlimit="2"/><path d="M530.8 581.0L542.3 604.0L519.3 604.0Z" fill="none" stroke="#D8B020" stroke-width="6" stroke-linejoin="miter" stroke-miterlimit="2"/><path d="M578.0 578.8L588.2 599.2L567.8 599.2Z" fill="none" stroke="#D8B020" stroke-width="4.2" stroke-linejoin="miter" stroke-miterlimit="2"/><path d="M188.6 731.0V739.0" stroke="#EF3E40" stroke-width="3.6"/><path d="M182.1 731.0H195.1M182.1 739.0H195.1" stroke="#EF3E40" stroke-width="3.6"/><path d="M284.7 750.0V766.0" stroke="#37AB6A" stroke-width="3.6"/><path d="M278.2 750.0H291.2M278.2 766.0H291.2" stroke="#37AB6A" stroke-width="3.6"/><path d="M263.1 740.0V750.5" stroke="#1F6FE0" stroke-width="3.6"/><path d="M256.6 740.0H269.6M256.6 750.5H269.6" stroke="#1F6FE0" stroke-width="3.6"/><path d="M293.6 762.0V778.0" stroke="#1F6FE0" stroke-width="3.6"/><path d="M287.1 762.0H300.1M287.1 778.0H300.1" stroke="#1F6FE0" stroke-width="3.6"/><path d="M528.6 567.0V618.2" stroke="#D8B020" stroke-width="2.4"/><path d="M520.6 567.0H536.6M520.6 618.2H536.6" stroke="#D8B020" stroke-width="3.6"/><path d="M533.0 567.0V618.2" stroke="#D8B020" stroke-width="2.4"/><path d="M525.0 567.0H541.0M525.0 618.2H541.0" stroke="#D8B020" stroke-width="3.6"/></g>
<rect x="116.0" y="547.4" width="550.5" height="432.30000000000007" fill="none" stroke="#000" stroke-width="2.0"/>
<path d="M238.3 975.7V983.7M238.3 545.9V553.9M360.7 975.7V983.7M360.7 545.9V553.9M483.0 975.7V983.7M483.0 545.9V553.9M605.3 975.7V983.7M605.3 545.9V553.9M115.5 609.2H123.0M667.0 609.2H659.5M115.5 732.7H123.0M667.0 732.7H659.5M115.5 856.2H123.0M667.0 856.2H659.5" stroke="#000" stroke-width="1.9"/>
<circle cx="144.0" cy="791.9" r="10.2" fill="none" stroke="#EF3E40" stroke-width="3.5"/>
<rect x="133.8" y="822.1" width="20.4" height="20.4" fill="none" stroke="#37AB6A" stroke-width="3.5" stroke-linejoin="miter"/>
<path d="M144.0 860.8L154.0 870.8L144.0 880.8L134.0 870.8Z" fill="none" stroke="#1F6FE0" stroke-width="3.5" stroke-linejoin="miter"/>
<path d="M144.0 900.4L154.2 920.8L133.8 920.8Z" fill="none" stroke="#D8B020" stroke-width="3.5" stroke-linejoin="miter" stroke-miterlimit="2"/>
<path d="M144.0 959.3L154.2 938.9L133.8 938.9Z" fill="none" stroke="#AF79E0" stroke-width="3.5" stroke-linejoin="miter" stroke-miterlimit="2"/>
<text transform="translate(29 774.0) rotate(-90)" font-size="38" text-anchor="middle">v'</text>
<clipPath id="clipe"><rect x="779.2" y="547.4" width="550.7" height="432.30000000000007"/></clipPath>
<path d="M1129.0 547.4V979.7" stroke="#008080" stroke-width="6"/>
<path d="M918.0 554.8V984.2" stroke="#000" stroke-width="4.3" stroke-dasharray="16.2 8.4"/>
<g clip-path="url(#clipe)"><circle cx="862.4" cy="736.3" r="10.2" fill="none" stroke="#EF3E40" stroke-width="3.5"/><circle cx="878.1" cy="735.3" r="10.2" fill="none" stroke="#EF3E40" stroke-width="3.5"/><circle cx="890.0" cy="737.5" r="10.2" fill="none" stroke="#EF3E40" stroke-width="3.5"/><circle cx="903.8" cy="737.5" r="10.2" fill="none" stroke="#EF3E40" stroke-width="3.5"/><circle cx="933.8" cy="741.3" r="10.2" fill="none" stroke="#EF3E40" stroke-width="3.5"/><circle cx="955.0" cy="746.3" r="10.2" fill="none" stroke="#EF3E40" stroke-width="3.5"/><circle cx="970.0" cy="750.6" r="10.2" fill="none" stroke="#EF3E40" stroke-width="3.5"/><rect x="824.7" y="724.2" width="20.4" height="20.4" fill="none" stroke="#37AB6A" stroke-width="3.5" stroke-linejoin="miter"/><rect x="853.2" y="727.1" width="20.4" height="20.4" fill="none" stroke="#37AB6A" stroke-width="3.5" stroke-linejoin="miter"/><rect x="881.6" y="726.1" width="20.4" height="20.4" fill="none" stroke="#37AB6A" stroke-width="3.5" stroke-linejoin="miter"/><rect x="908.3" y="728.3" width="20.4" height="20.4" fill="none" stroke="#37AB6A" stroke-width="3.5" stroke-linejoin="miter"/><rect x="937.3" y="729.8" width="20.4" height="20.4" fill="none" stroke="#37AB6A" stroke-width="3.5" stroke-linejoin="miter"/><rect x="968.6" y="742.3" width="20.4" height="20.4" fill="none" stroke="#37AB6A" stroke-width="3.5" stroke-linejoin="miter"/><rect x="993.6" y="771.1" width="20.4" height="20.4" fill="none" stroke="#37AB6A" stroke-width="3.5" stroke-linejoin="miter"/><rect x="1019.8" y="753.6" width="20.4" height="20.4" fill="none" stroke="#37AB6A" stroke-width="3.5" stroke-linejoin="miter"/><rect x="1049.8" y="760.4" width="20.4" height="20.4" fill="none" stroke="#37AB6A" stroke-width="3.5" stroke-linejoin="miter"/><rect x="1080.4" y="764.8" width="20.4" height="20.4" fill="none" stroke="#37AB6A" stroke-width="3.5" stroke-linejoin="miter"/><path d="M993.8 770.0L1003.8 780.0L993.8 790.0L983.8 780.0Z" fill="none" stroke="#1F6FE0" stroke-width="3.5" stroke-linejoin="miter"/><path d="M1043.1 753.1L1053.1 763.1L1043.1 773.1L1033.1 763.1Z" fill="none" stroke="#1F6FE0" stroke-width="3.5" stroke-linejoin="miter"/><path d="M1082.5 737.5L1092.5 747.5L1082.5 757.5L1072.5 747.5Z" fill="none" stroke="#1F6FE0" stroke-width="3.5" stroke-linejoin="miter"/><path d="M1120.6 723.8L1130.6 733.8L1120.6 743.8L1110.6 733.8Z" fill="none" stroke="#1F6FE0" stroke-width="3.5" stroke-linejoin="miter"/><path d="M1121.3 756.9L1131.3 766.9L1121.3 776.9L1111.3 766.9Z" fill="none" stroke="#1F6FE0" stroke-width="3.5" stroke-linejoin="miter"/><path d="M1166.4 666.1L1176.4 676.1L1166.4 686.1L1156.4 676.1Z" fill="none" stroke="#1F6FE0" stroke-width="4.5" stroke-linejoin="miter"/><path d="M1210.3 625.5L1220.3 635.5L1210.3 645.5L1200.3 635.5Z" fill="none" stroke="#1F6FE0" stroke-width="4.5" stroke-linejoin="miter"/><path d="M1255.6 515.0L1265.6 525.0L1255.6 535.0L1245.6 525.0Z" fill="none" stroke="#1F6FE0" stroke-width="3.5" stroke-linejoin="miter"/><path d="M957.5 739.8L967.7 760.2L947.3 760.2Z" fill="none" stroke="#D8B020" stroke-width="3.5" stroke-linejoin="miter" stroke-miterlimit="2"/><path d="M1023.8 761.1L1034.0 781.5L1013.6 781.5Z" fill="none" stroke="#D8B020" stroke-width="3.5" stroke-linejoin="miter" stroke-miterlimit="2"/><path d="M1088.1 735.4L1098.3 755.8L1077.9 755.8Z" fill="none" stroke="#D8B020" stroke-width="3.5" stroke-linejoin="miter" stroke-miterlimit="2"/><path d="M1138.9 707.5L1149.1 727.9L1128.7 727.9Z" fill="none" stroke="#D8B020" stroke-width="5" stroke-linejoin="miter" stroke-miterlimit="2"/><path d="M1207.6 696.7L1217.8 717.1L1197.4 717.1Z" fill="none" stroke="#D8B020" stroke-width="3.5" stroke-linejoin="miter" stroke-miterlimit="2"/><path d="M1271.7 572.1L1281.9 592.5L1261.5 592.5Z" fill="none" stroke="#D8B020" stroke-width="3.5" stroke-linejoin="miter" stroke-miterlimit="2"/><path d="M993.1 761.5L1003.3 741.1L982.9 741.1Z" fill="none" stroke="#AF79E0" stroke-width="3.5" stroke-linejoin="miter" stroke-miterlimit="2"/><path d="M1084.4 789.0L1094.6 768.6L1074.2 768.6Z" fill="none" stroke="#AF79E0" stroke-width="3.5" stroke-linejoin="miter" stroke-miterlimit="2"/><path d="M1197.7 701.4L1207.9 681.0L1187.5 681.0Z" fill="none" stroke="#AF79E0" stroke-width="3.5" stroke-linejoin="miter" stroke-miterlimit="2"/><path d="M1304.7 626.7L1314.9 606.3L1294.5 606.3Z" fill="none" stroke="#AF79E0" stroke-width="3.5" stroke-linejoin="miter" stroke-miterlimit="2"/><path d="M940.0 743.6L943.2 745.5L946.4 747.3L949.6 749.1L952.8 750.8L956.0 752.4L959.2 753.9L962.4 755.4L965.5 756.8L968.7 758.2L971.9 759.4L975.1 760.7L978.3 761.8L981.5 762.9L984.7 763.9L987.9 764.8L991.1 765.7L994.3 766.5L997.5 767.3L1000.7 767.9L1003.9 768.5L1007.1 769.1L1010.3 769.6L1013.4 770.0L1016.6 770.4L1019.8 770.6L1023.0 770.9L1026.2 771.0L1029.4 771.1L1032.6 771.2L1035.8 771.1L1039.0 771.1L1042.2 770.9L1045.4 770.7L1048.6 770.4L1051.8 770.1L1055.0 769.7L1058.2 769.2L1061.3 768.7L1064.5 768.1L1067.7 767.4L1070.9 766.7L1074.1 765.9L1077.3 765.1L1080.5 764.2L1083.7 763.3L1086.9 762.3L1090.1 761.2L1093.3 760.0L1096.5 758.8L1099.7 757.6L1102.9 756.3L1106.1 754.9L1109.2 753.5L1112.4 752.0L1115.6 750.4L1118.8 748.8L1122.0 747.2L1125.2 745.5L1128.4 743.7L1131.6 741.8L1134.8 739.9L1138.0 738.0L1141.2 736.0L1144.4 733.9L1147.6 731.8L1150.8 729.6L1153.9 727.4L1157.1 725.1L1160.3 722.7L1163.5 720.3L1166.7 717.9L1169.9 715.4L1173.1 712.8L1176.3 710.2L1179.5 707.5L1182.7 704.8L1185.9 702.0L1189.1 699.1L1192.3 696.3L1195.5 693.3L1198.7 690.3L1201.8 687.2L1205.0 684.1L1208.2 681.0L1211.4 677.8L1214.6 674.5L1217.8 671.2L1221.0 667.8L1224.2 664.4L1227.4 660.9L1230.6 657.4L1233.8 653.8L1237.0 650.2L1240.2 646.5L1243.4 642.8L1246.6 639.0L1249.7 635.2L1252.9 631.3L1256.1 627.4L1259.3 623.4L1262.5 619.4L1265.7 615.3L1268.9 611.2L1272.1 607.0L1275.3 602.8L1278.5 598.5L1281.7 594.2L1284.9 589.8L1288.1 585.4L1291.3 580.9L1294.5 576.4L1297.6 571.8L1300.8 567.2L1304.0 562.6L1307.2 557.8L1310.4 553.1L1313.6 548.3L1316.8 543.5L1320.0 538.6" fill="none" stroke="#1F6FE0" stroke-width="5.0" stroke-linecap="butt"/><path d="M931.0 730.0L921.9 735.2L921.9 745.8L931.0 751.0L940.1 745.8L940.1 735.2Z" fill="none" stroke="#000" stroke-width="3.3" stroke-linejoin="miter"/><path d="M944.6 735.2L935.5 740.5L935.5 751.0L944.6 756.2L953.7 751.0L953.7 740.5Z" fill="none" stroke="#000" stroke-width="3.3" stroke-linejoin="miter"/><path d="M958.2 740.4L949.1 745.7L949.1 756.2L958.2 761.4L967.3 756.2L967.3 745.7Z" fill="none" stroke="#000" stroke-width="3.3" stroke-linejoin="miter"/><path d="M971.8 745.6L962.7 750.9L962.7 761.4L971.8 766.6L980.9 761.4L980.9 750.9Z" fill="none" stroke="#000" stroke-width="3.3" stroke-linejoin="miter"/><path d="M985.5 750.9L976.4 756.1L976.4 766.6L985.5 771.9L994.6 766.6L994.6 756.1Z" fill="none" stroke="#000" stroke-width="3.3" stroke-linejoin="miter"/><path d="M999.1 756.1L990.0 761.3L990.0 771.8L999.1 777.1L1008.2 771.8L1008.2 761.3Z" fill="none" stroke="#000" stroke-width="3.3" stroke-linejoin="miter"/><path d="M1012.7 761.3L1003.6 766.5L1003.6 777.0L1012.7 782.3L1021.8 777.0L1021.8 766.5Z" fill="none" stroke="#000" stroke-width="3.3" stroke-linejoin="miter"/><path d="M1026.3 766.5L1017.2 771.8L1017.2 782.2L1026.3 787.5L1035.4 782.2L1035.4 771.8Z" fill="none" stroke="#000" stroke-width="3.3" stroke-linejoin="miter"/><path d="M933.8 738.0V744.6" stroke="#EF3E40" stroke-width="3.6"/><path d="M927.3 738.0H940.3M927.3 744.6H940.3" stroke="#EF3E40" stroke-width="3.6"/><path d="M970.0 740.0V761.3" stroke="#EF3E40" stroke-width="3.6"/><path d="M963.5 740.0H976.5M963.5 761.3H976.5" stroke="#EF3E40" stroke-width="3.6"/><path d="M978.8 736.3V767.5" stroke="#37AB6A" stroke-width="3.6"/><path d="M972.3 736.3H985.3M972.3 767.5H985.3" stroke="#37AB6A" stroke-width="3.6"/><path d="M1030.0 746.9V783.1" stroke="#37AB6A" stroke-width="3.6"/><path d="M1023.5 746.9H1036.5M1023.5 783.1H1036.5" stroke="#37AB6A" stroke-width="3.6"/><path d="M1166.4 671.0V681.0" stroke="#1F6FE0" stroke-width="3.6"/><path d="M1159.9 671.0H1172.9M1159.9 681.0H1172.9" stroke="#1F6FE0" stroke-width="3.6"/><path d="M1210.3 634.5V636.5" stroke="#1F6FE0" stroke-width="3.6"/><path d="M1202.3 634.5H1218.3M1202.3 636.5H1218.3" stroke="#1F6FE0" stroke-width="3.6"/><path d="M1255.6 500.0V550.0" stroke="#1F6FE0" stroke-width="3.6"/><path d="M1249.1 500.0H1262.1M1249.1 550.0H1262.1" stroke="#1F6FE0" stroke-width="3.6"/></g>
<rect x="779.2" y="547.4" width="550.7" height="432.30000000000007" fill="none" stroke="#000" stroke-width="2.0"/>
<path d="M916.9 975.7V983.7M916.9 545.9V553.9M1054.6 975.7V983.7M1054.6 545.9V553.9M1192.2 975.7V983.7M1192.2 545.9V553.9M778.7 609.2H786.2M1330.4 609.2H1322.9M778.7 732.7H786.2M1330.4 732.7H1322.9M778.7 856.2H786.2M1330.4 856.2H1322.9" stroke="#000" stroke-width="1.9"/>
<circle cx="805.4" cy="792.6" r="10.2" fill="none" stroke="#EF3E40" stroke-width="3.5"/>
<rect x="795.2" y="822.1" width="20.4" height="20.4" fill="none" stroke="#37AB6A" stroke-width="3.5" stroke-linejoin="miter"/>
<path d="M805.4 860.8L815.4 870.8L805.4 880.8L795.4 870.8Z" fill="none" stroke="#1F6FE0" stroke-width="3.5" stroke-linejoin="miter"/>
<path d="M805.4 900.4L815.6 920.8L795.2 920.8Z" fill="none" stroke="#D8B020" stroke-width="3.5" stroke-linejoin="miter" stroke-miterlimit="2"/>
<path d="M805.4 959.3L815.6 938.9L795.2 938.9Z" fill="none" stroke="#AF79E0" stroke-width="3.5" stroke-linejoin="miter" stroke-miterlimit="2"/>
<clipPath id="clipf"><rect x="1442.3" y="547.4" width="550.4000000000001" height="432.30000000000007"/></clipPath>
<path d="M1762.1 547.4V979.7" stroke="#008080" stroke-width="6"/>
<path d="M1579.9 551.9V984.2" stroke="#000" stroke-width="4.3" stroke-dasharray="16.2 8.4"/>
<g clip-path="url(#clipf)"><circle cx="1514.0" cy="736.4" r="10.2" fill="none" stroke="#EF3E40" stroke-width="3.5"/><circle cx="1541.7" cy="744.0" r="10.2" fill="none" stroke="#EF3E40" stroke-width="3.5"/><circle cx="1570.7" cy="740.2" r="10.2" fill="none" stroke="#EF3E40" stroke-width="3.5"/><circle cx="1598.4" cy="747.8" r="10.2" fill="none" stroke="#EF3E40" stroke-width="3.5"/><rect x="1505.4" y="725.1" width="20.4" height="20.4" fill="none" stroke="#37AB6A" stroke-width="3.5" stroke-linejoin="miter"/><rect x="1531.9" y="725.1" width="20.4" height="20.4" fill="none" stroke="#37AB6A" stroke-width="3.5" stroke-linejoin="miter"/><rect x="1558.3" y="723.2" width="20.4" height="20.4" fill="none" stroke="#37AB6A" stroke-width="3.5" stroke-linejoin="miter"/><rect x="1583.9" y="725.1" width="20.4" height="20.4" fill="none" stroke="#37AB6A" stroke-width="3.5" stroke-linejoin="miter"/><rect x="1607.4" y="728.1" width="20.4" height="20.4" fill="none" stroke="#37AB6A" stroke-width="3.5" stroke-linejoin="miter"/><rect x="1635.4" y="742.6" width="20.4" height="20.4" fill="none" stroke="#37AB6A" stroke-width="3.5" stroke-linejoin="miter"/><rect x="1713.2" y="759.0" width="20.4" height="20.4" fill="none" stroke="#37AB6A" stroke-width="3.5" stroke-linejoin="miter"/><path d="M1517.5 724.4L1527.5 734.4L1517.5 744.4L1507.5 734.4Z" fill="none" stroke="#1F6FE0" stroke-width="3.5" stroke-linejoin="miter"/><path d="M1556.8 726.3L1566.8 736.3L1556.8 746.3L1546.8 736.3Z" fill="none" stroke="#1F6FE0" stroke-width="3.5" stroke-linejoin="miter"/><path d="M1592.1 721.4L1602.1 731.4L1592.1 741.4L1582.1 731.4Z" fill="none" stroke="#1F6FE0" stroke-width="3.5" stroke-linejoin="miter"/><path d="M1635.0 751.6L1645.0 761.6L1635.0 771.6L1625.0 761.6Z" fill="none" stroke="#1F6FE0" stroke-width="3.5" stroke-linejoin="miter"/><path d="M1674.3 743.0L1684.3 753.0L1674.3 763.0L1664.3 753.0Z" fill="none" stroke="#1F6FE0" stroke-width="3.5" stroke-linejoin="miter"/><path d="M1828.4 635.1L1838.4 645.1L1828.4 655.1L1818.4 645.1Z" fill="none" stroke="#1F6FE0" stroke-width="3.5" stroke-linejoin="miter"/><path d="M1870.6 587.0L1880.6 597.0L1870.6 607.0L1860.6 597.0Z" fill="none" stroke="#1F6FE0" stroke-width="3.5" stroke-linejoin="miter"/><path d="M1494.6 724.2L1504.8 744.6L1484.4 744.6Z" fill="none" stroke="#D8B020" stroke-width="3.5" stroke-linejoin="miter" stroke-miterlimit="2"/><path d="M1602.9 730.1L1613.1 750.5L1592.7 750.5Z" fill="none" stroke="#D8B020" stroke-width="3.5" stroke-linejoin="miter" stroke-miterlimit="2"/><path d="M1662.8 759.0L1673.0 779.4L1652.6 779.4Z" fill="none" stroke="#D8B020" stroke-width="3.5" stroke-linejoin="miter" stroke-miterlimit="2"/><path d="M1723.4 759.0L1733.6 779.4L1713.2 779.4Z" fill="none" stroke="#D8B020" stroke-width="3.5" stroke-linejoin="miter" stroke-miterlimit="2"/><path d="M1773.8 709.4L1784.0 729.8L1763.6 729.8Z" fill="none" stroke="#D8B020" stroke-width="5.5" stroke-linejoin="miter" stroke-miterlimit="2"/><path d="M1827.4 665.3L1837.6 685.7L1817.2 685.7Z" fill="none" stroke="#D8B020" stroke-width="5.5" stroke-linejoin="miter" stroke-miterlimit="2"/><path d="M1881.7 607.4L1891.9 627.8L1871.5 627.8Z" fill="none" stroke="#D8B020" stroke-width="3.5" stroke-linejoin="miter" stroke-miterlimit="2"/><path d="M1536.2 740.6L1546.4 720.2L1526.0 720.2Z" fill="none" stroke="#AF79E0" stroke-width="3.5" stroke-linejoin="miter" stroke-miterlimit="2"/><path d="M1631.3 751.4L1641.5 731.0L1621.1 731.0Z" fill="none" stroke="#AF79E0" stroke-width="3.5" stroke-linejoin="miter" stroke-miterlimit="2"/><path d="M1811.7 724.0L1821.9 703.6L1801.5 703.6Z" fill="none" stroke="#AF79E0" stroke-width="5.5" stroke-linejoin="miter" stroke-miterlimit="2"/><path d="M1915.7 671.0L1925.9 650.6L1905.5 650.6Z" fill="none" stroke="#AF79E0" stroke-width="3.5" stroke-linejoin="miter" stroke-miterlimit="2"/><path d="M1603.0 742.5L1606.0 744.0L1609.1 745.4L1612.1 746.7L1615.2 748.0L1618.2 749.2L1621.3 750.3L1624.3 751.4L1627.3 752.4L1630.4 753.3L1633.4 754.2L1636.5 755.1L1639.5 755.8L1642.5 756.5L1645.6 757.1L1648.6 757.7L1651.7 758.2L1654.7 758.7L1657.8 759.1L1660.8 759.4L1663.8 759.7L1666.9 759.9L1669.9 760.1L1673.0 760.2L1676.0 760.2L1679.1 760.2L1682.1 760.1L1685.1 760.0L1688.2 759.8L1691.2 759.5L1694.3 759.2L1697.3 758.8L1700.3 758.4L1703.4 757.9L1706.4 757.4L1709.5 756.8L1712.5 756.2L1715.6 755.5L1718.6 754.7L1721.6 753.9L1724.7 753.1L1727.7 752.2L1730.8 751.2L1733.8 750.2L1736.8 749.1L1739.9 748.0L1742.9 746.8L1746.0 745.6L1749.0 744.3L1752.1 743.0L1755.1 741.6L1758.1 740.2L1761.2 738.7L1764.2 737.1L1767.3 735.6L1770.3 733.9L1773.4 732.3L1776.4 730.5L1779.4 728.7L1782.5 726.9L1785.5 725.0L1788.6 723.1L1791.6 721.2L1794.6 719.1L1797.7 717.1L1800.7 715.0L1803.8 712.8L1806.8 710.6L1809.9 708.4L1812.9 706.1L1815.9 703.7L1819.0 701.3L1822.0 698.9L1825.1 696.5L1828.1 693.9L1831.2 691.4L1834.2 688.8L1837.2 686.1L1840.3 683.4L1843.3 680.7L1846.4 677.9L1849.4 675.1L1852.4 672.3L1855.5 669.4L1858.5 666.4L1861.6 663.5L1864.6 660.5L1867.7 657.4L1870.7 654.3L1873.7 651.2L1876.8 648.0L1879.8 644.8L1882.9 641.5L1885.9 638.2L1888.9 634.9L1892.0 631.5L1895.0 628.1L1898.1 624.7L1901.1 621.2L1904.2 617.7L1907.2 614.2L1910.2 610.6L1913.3 606.9L1916.3 603.3L1919.4 599.6L1922.4 595.9L1925.5 592.1L1928.5 588.3L1931.5 584.5L1934.6 580.6L1937.6 576.7L1940.7 572.8L1943.7 568.8L1946.7 564.8L1949.8 560.8L1952.8 556.8L1955.9 552.7L1958.9 548.6L1962.0 544.4L1965.0 540.2" fill="none" stroke="#1F6FE0" stroke-width="5.0" stroke-linecap="butt"/><path d="M1581.0 722.5L1571.9 727.8L1571.9 738.2L1581.0 743.5L1590.1 738.2L1590.1 727.8Z" fill="none" stroke="#000" stroke-width="3.3" stroke-linejoin="miter"/><path d="M1594.6 727.3L1585.5 732.6L1585.5 743.1L1594.6 748.3L1603.7 743.1L1603.7 732.6Z" fill="none" stroke="#000" stroke-width="3.3" stroke-linejoin="miter"/><path d="M1608.1 732.2L1599.0 737.4L1599.0 747.9L1608.1 753.2L1617.2 747.9L1617.2 737.4Z" fill="none" stroke="#000" stroke-width="3.3" stroke-linejoin="miter"/><path d="M1621.7 737.0L1612.6 742.2L1612.6 752.8L1621.7 758.0L1630.8 752.8L1630.8 742.2Z" fill="none" stroke="#000" stroke-width="3.3" stroke-linejoin="miter"/><path d="M1635.3 741.8L1626.2 747.1L1626.2 757.6L1635.3 762.8L1644.4 757.6L1644.4 747.1Z" fill="none" stroke="#000" stroke-width="3.3" stroke-linejoin="miter"/><path d="M1648.8 746.7L1639.7 751.9L1639.7 762.4L1648.8 767.7L1657.9 762.4L1657.9 751.9Z" fill="none" stroke="#000" stroke-width="3.3" stroke-linejoin="miter"/><path d="M1662.4 751.5L1653.3 756.8L1653.3 767.2L1662.4 772.5L1671.5 767.2L1671.5 756.8Z" fill="none" stroke="#000" stroke-width="3.3" stroke-linejoin="miter"/><path d="M1517.5 730.0V738.0" stroke="#1F6FE0" stroke-width="3.6"/><path d="M1511.0 730.0H1524.0M1511.0 738.0H1524.0" stroke="#1F6FE0" stroke-width="3.6"/><path d="M1556.8 732.0V740.0" stroke="#1F6FE0" stroke-width="3.6"/><path d="M1550.3 732.0H1563.3M1550.3 740.0H1563.3" stroke="#1F6FE0" stroke-width="3.6"/><path d="M1881.7 583.3V647.1" stroke="#D8B020" stroke-width="3.6"/><path d="M1875.2 583.3H1888.2M1875.2 647.1H1888.2" stroke="#D8B020" stroke-width="3.6"/></g>
<rect x="1442.3" y="547.4" width="550.4000000000001" height="432.30000000000007" fill="none" stroke="#000" stroke-width="2.0"/>
<path d="M1579.9 975.7V983.7M1579.9 545.9V553.9M1717.5 975.7V983.7M1717.5 545.9V553.9M1855.1 975.7V983.7M1855.1 545.9V553.9M1441.8 609.2H1449.3M1993.2 609.2H1985.7M1441.8 732.7H1449.3M1993.2 732.7H1985.7M1441.8 856.2H1449.3M1993.2 856.2H1985.7" stroke="#000" stroke-width="1.9"/>
<circle cx="1469.3" cy="793.2" r="10.2" fill="none" stroke="#EF3E40" stroke-width="3.5"/>
<rect x="1459.1" y="822.6" width="20.4" height="20.4" fill="none" stroke="#37AB6A" stroke-width="3.5" stroke-linejoin="miter"/>
<path d="M1469.3 861.4L1479.3 871.4L1469.3 881.4L1459.3 871.4Z" fill="none" stroke="#1F6FE0" stroke-width="3.5" stroke-linejoin="miter"/>
<path d="M1469.3 902.1L1479.5 922.5L1459.1 922.5Z" fill="none" stroke="#D8B020" stroke-width="3.5" stroke-linejoin="miter" stroke-miterlimit="2"/>
<path d="M1469.3 959.8L1479.5 939.4L1459.1 939.4Z" fill="none" stroke="#AF79E0" stroke-width="3.5" stroke-linejoin="miter" stroke-miterlimit="2"/>
<text x="106.04" y="486.40" font-size="39.5" textLength="20.96" lengthAdjust="spacingAndGlyphs">0</text><text x="216.22" y="486.40" font-size="39.5" textLength="17.26" lengthAdjust="spacingAndGlyphs">1</text><text x="325.11" y="486.40" font-size="39.5" textLength="23.22" lengthAdjust="spacingAndGlyphs">2</text><text x="436.27" y="486.40" font-size="39.5" textLength="21.30" lengthAdjust="spacingAndGlyphs">3</text><text x="546.18" y="486.40" font-size="39.5" textLength="21.69" lengthAdjust="spacingAndGlyphs">4</text><text x="656.48" y="486.40" font-size="39.5" textLength="21.08" lengthAdjust="spacingAndGlyphs">5</text><text x="61.86" y="28.00" font-size="39.5" textLength="46.45" lengthAdjust="spacingAndGlyphs">0.1</text><text x="91.92" y="133.48" font-size="39.5" textLength="20.61" lengthAdjust="spacingAndGlyphs">0</text><text x="38.22" y="241.45" font-size="39.5" textLength="70.14" lengthAdjust="spacingAndGlyphs">−0.1</text><text x="40.16" y="349.43" font-size="39.5" textLength="72.65" lengthAdjust="spacingAndGlyphs">−0.2</text><text x="40.16" y="457.40" font-size="39.5" textLength="72.46" lengthAdjust="spacingAndGlyphs">−0.3</text><text x="175.28" y="347.50" font-size="32" textLength="195.74" lengthAdjust="spacingAndGlyphs">ω'=0.71(3Hz)</text><text x="175.28" y="388.00" font-size="32" textLength="195.74" lengthAdjust="spacingAndGlyphs">ω'=0.91(4Hz)</text><text x="175.28" y="426.90" font-size="32" textLength="195.74" lengthAdjust="spacingAndGlyphs">ω'=1.18(5Hz)</text><text x="134.99" y="51.10" font-size="34" textLength="36.78" lengthAdjust="spacingAndGlyphs">(a)</text><text x="133.67" y="95.40" font-size="32" textLength="83.07" lengthAdjust="spacingAndGlyphs">0.05g</text><text x="392.75" y="535.00" font-size="38" text-anchor="middle">Γ</text><text x="769.24" y="486.40" font-size="39.5" textLength="20.96" lengthAdjust="spacingAndGlyphs">0</text><text x="879.46" y="486.40" font-size="39.5" textLength="17.26" lengthAdjust="spacingAndGlyphs">1</text><text x="988.39" y="486.40" font-size="39.5" textLength="23.22" lengthAdjust="spacingAndGlyphs">2</text><text x="1099.59" y="486.40" font-size="39.5" textLength="21.30" lengthAdjust="spacingAndGlyphs">3</text><text x="1209.54" y="486.40" font-size="39.5" textLength="21.69" lengthAdjust="spacingAndGlyphs">4</text><text x="1319.88" y="486.40" font-size="39.5" textLength="21.08" lengthAdjust="spacingAndGlyphs">5</text><text x="719.46" y="28.00" font-size="39.5" textLength="46.45" lengthAdjust="spacingAndGlyphs">0.1</text><text x="749.52" y="133.48" font-size="39.5" textLength="20.61" lengthAdjust="spacingAndGlyphs">0</text><text x="695.82" y="241.45" font-size="39.5" textLength="70.14" lengthAdjust="spacingAndGlyphs">−0.1</text><text x="697.76" y="349.43" font-size="39.5" textLength="72.65" lengthAdjust="spacingAndGlyphs">−0.2</text><text x="697.76" y="457.40" font-size="39.5" textLength="72.46" lengthAdjust="spacingAndGlyphs">−0.3</text><text x="834.59" y="308.30" font-size="32" textLength="194.62" lengthAdjust="spacingAndGlyphs">ω'=0.40(2Hz)</text><text x="834.59" y="348.50" font-size="32" textLength="194.62" lengthAdjust="spacingAndGlyphs">ω'=0.60(3Hz)</text><text x="834.59" y="386.80" font-size="32" textLength="194.62" lengthAdjust="spacingAndGlyphs">ω'=0.80(4Hz)</text><text x="834.59" y="426.50" font-size="32" textLength="194.62" lengthAdjust="spacingAndGlyphs">ω'=1.00(5Hz)</text><text x="796.57" y="50.80" font-size="34" textLength="41.45" lengthAdjust="spacingAndGlyphs">(b)</text><text x="795.66" y="96.30" font-size="32" textLength="83.59" lengthAdjust="spacingAndGlyphs">0.07g</text><text x="1056.05" y="535.00" font-size="38" text-anchor="middle">Γ</text><text x="1432.34" y="486.40" font-size="39.5" textLength="20.96" lengthAdjust="spacingAndGlyphs">0</text><text x="1554.73" y="486.40" font-size="39.5" textLength="17.26" lengthAdjust="spacingAndGlyphs">1</text><text x="1675.83" y="486.40" font-size="39.5" textLength="23.22" lengthAdjust="spacingAndGlyphs">2</text><text x="1799.20" y="486.40" font-size="39.5" textLength="21.30" lengthAdjust="spacingAndGlyphs">3</text><text x="1921.32" y="486.40" font-size="39.5" textLength="21.69" lengthAdjust="spacingAndGlyphs">4</text><text x="1382.56" y="28.00" font-size="39.5" textLength="46.45" lengthAdjust="spacingAndGlyphs">0.1</text><text x="1412.62" y="148.90" font-size="39.5" textLength="20.61" lengthAdjust="spacingAndGlyphs">0</text><text x="1358.92" y="272.30" font-size="39.5" textLength="70.14" lengthAdjust="spacingAndGlyphs">−0.1</text><text x="1360.86" y="395.70" font-size="39.5" textLength="72.65" lengthAdjust="spacingAndGlyphs">−0.2</text><text x="1497.49" y="268.40" font-size="32" textLength="195.03" lengthAdjust="spacingAndGlyphs">ω'=0.33(2Hz)</text><text x="1497.49" y="309.10" font-size="32" textLength="195.03" lengthAdjust="spacingAndGlyphs">ω'=0.50(3Hz)</text><text x="1497.49" y="347.90" font-size="32" textLength="195.03" lengthAdjust="spacingAndGlyphs">ω'=0.67(4Hz)</text><text x="1497.49" y="388.30" font-size="32" textLength="195.03" lengthAdjust="spacingAndGlyphs">ω'=0.84(5Hz)</text><text x="1497.49" y="426.20" font-size="32" textLength="195.03" lengthAdjust="spacingAndGlyphs">ω'=1.00(6Hz)</text><text x="1460.68" y="50.80" font-size="34" textLength="37.27" lengthAdjust="spacingAndGlyphs">(c)</text><text x="1458.64" y="100.20" font-size="32" textLength="66.01" lengthAdjust="spacingAndGlyphs">0.1g</text><text x="1719.00" y="535.00" font-size="38" text-anchor="middle">Γ</text><text x="106.04" y="1020.00" font-size="39.5" textLength="20.96" lengthAdjust="spacingAndGlyphs">0</text><text x="228.46" y="1020.00" font-size="39.5" textLength="17.26" lengthAdjust="spacingAndGlyphs">1</text><text x="349.58" y="1020.00" font-size="39.5" textLength="23.22" lengthAdjust="spacingAndGlyphs">2</text><text x="472.97" y="1020.00" font-size="39.5" textLength="21.30" lengthAdjust="spacingAndGlyphs">3</text><text x="595.11" y="1020.00" font-size="39.5" textLength="21.69" lengthAdjust="spacingAndGlyphs">4</text><text x="61.86" y="623.76" font-size="39.5" textLength="46.45" lengthAdjust="spacingAndGlyphs">0.1</text><text x="91.92" y="747.27" font-size="39.5" textLength="20.61" lengthAdjust="spacingAndGlyphs">0</text><text x="38.22" y="870.79" font-size="39.5" textLength="70.14" lengthAdjust="spacingAndGlyphs">−0.1</text><text x="40.16" y="994.30" font-size="39.5" textLength="72.65" lengthAdjust="spacingAndGlyphs">−0.2</text><text x="170.79" y="805.40" font-size="32" textLength="194.93" lengthAdjust="spacingAndGlyphs">ω'=0.30(2Hz)</text><text x="170.79" y="845.80" font-size="32" textLength="194.93" lengthAdjust="spacingAndGlyphs">ω'=0.45(3Hz)</text><text x="170.79" y="884.30" font-size="32" textLength="194.93" lengthAdjust="spacingAndGlyphs">ω'=0.60(4Hz)</text><text x="170.79" y="924.10" font-size="32" textLength="194.93" lengthAdjust="spacingAndGlyphs">ω'=0.75(5Hz)</text><text x="170.79" y="962.60" font-size="32" textLength="194.93" lengthAdjust="spacingAndGlyphs">ω'=0.90(6Hz)</text><text x="134.70" y="588.00" font-size="34" textLength="40.78" lengthAdjust="spacingAndGlyphs">(d)</text><text x="134.77" y="633.60" font-size="32" textLength="101.54" lengthAdjust="spacingAndGlyphs">0.125g</text><text x="392.75" y="1070.20" font-size="38" text-anchor="middle">Γ</text><text x="769.24" y="1020.00" font-size="39.5" textLength="20.96" lengthAdjust="spacingAndGlyphs">0</text><text x="907.00" y="1020.00" font-size="39.5" textLength="17.26" lengthAdjust="spacingAndGlyphs">1</text><text x="1043.46" y="1020.00" font-size="39.5" textLength="23.22" lengthAdjust="spacingAndGlyphs">2</text><text x="1182.19" y="1020.00" font-size="39.5" textLength="21.30" lengthAdjust="spacingAndGlyphs">3</text><text x="1319.68" y="1020.00" font-size="39.5" textLength="21.69" lengthAdjust="spacingAndGlyphs">4</text><text x="719.46" y="623.76" font-size="39.5" textLength="46.45" lengthAdjust="spacingAndGlyphs">0.1</text><text x="749.52" y="747.27" font-size="39.5" textLength="20.61" lengthAdjust="spacingAndGlyphs">0</text><text x="695.82" y="870.79" font-size="39.5" textLength="70.14" lengthAdjust="spacingAndGlyphs">−0.1</text><text x="697.76" y="994.30" font-size="39.5" textLength="72.65" lengthAdjust="spacingAndGlyphs">−0.2</text><text x="832.59" y="806.10" font-size="32" textLength="194.93" lengthAdjust="spacingAndGlyphs">ω'=0.41(3Hz)</text><text x="832.59" y="845.80" font-size="32" textLength="194.93" lengthAdjust="spacingAndGlyphs">ω'=0.55(4Hz)</text><text x="832.59" y="884.30" font-size="32" textLength="194.93" lengthAdjust="spacingAndGlyphs">ω'=0.68(5Hz)</text><text x="832.59" y="924.10" font-size="32" textLength="194.93" lengthAdjust="spacingAndGlyphs">ω'=0.82(6Hz)</text><text x="832.59" y="962.60" font-size="32" textLength="194.93" lengthAdjust="spacingAndGlyphs">ω'=1.09(8Hz)</text><text x="797.62" y="588.80" font-size="34" textLength="40.33" lengthAdjust="spacingAndGlyphs">(e)</text><text x="795.66" y="633.30" font-size="32" textLength="83.70" lengthAdjust="spacingAndGlyphs">0.15g</text><text x="1056.05" y="1070.20" font-size="38" text-anchor="middle">Γ</text><text x="1432.34" y="1020.00" font-size="39.5" textLength="20.96" lengthAdjust="spacingAndGlyphs">0</text><text x="1570.02" y="1020.00" font-size="39.5" textLength="17.26" lengthAdjust="spacingAndGlyphs">1</text><text x="1706.41" y="1020.00" font-size="39.5" textLength="23.22" lengthAdjust="spacingAndGlyphs">2</text><text x="1845.07" y="1020.00" font-size="39.5" textLength="21.30" lengthAdjust="spacingAndGlyphs">3</text><text x="1982.48" y="1020.00" font-size="39.5" textLength="21.69" lengthAdjust="spacingAndGlyphs">4</text><text x="1382.56" y="623.76" font-size="39.5" textLength="46.45" lengthAdjust="spacingAndGlyphs">0.1</text><text x="1412.62" y="747.27" font-size="39.5" textLength="20.61" lengthAdjust="spacingAndGlyphs">0</text><text x="1358.92" y="870.79" font-size="39.5" textLength="70.14" lengthAdjust="spacingAndGlyphs">−0.1</text><text x="1360.86" y="994.30" font-size="39.5" textLength="72.65" lengthAdjust="spacingAndGlyphs">−0.2</text><text x="1495.69" y="806.70" font-size="32" textLength="194.32" lengthAdjust="spacingAndGlyphs">ω'=0.39(3Hz)</text><text x="1495.69" y="846.30" font-size="32" textLength="194.32" lengthAdjust="spacingAndGlyphs">ω'=0.52(4Hz)</text><text x="1495.69" y="884.90" font-size="32" textLength="194.32" lengthAdjust="spacingAndGlyphs">ω'=0.65(5Hz)</text><text x="1495.69" y="925.80" font-size="32" textLength="194.32" lengthAdjust="spacingAndGlyphs">ω'=0.78(6Hz)</text><text x="1495.69" y="963.10" font-size="32" textLength="194.32" lengthAdjust="spacingAndGlyphs">ω'=1.04(8Hz)</text><text x="1460.23" y="587.80" font-size="34" textLength="37.30" lengthAdjust="spacingAndGlyphs">(f)</text><text x="1458.65" y="632.30" font-size="32" textLength="103.20" lengthAdjust="spacingAndGlyphs">0.167g</text><text x="1719.00" y="1070.20" font-size="38" text-anchor="middle">Γ</text>
</svg>
</body></html>
